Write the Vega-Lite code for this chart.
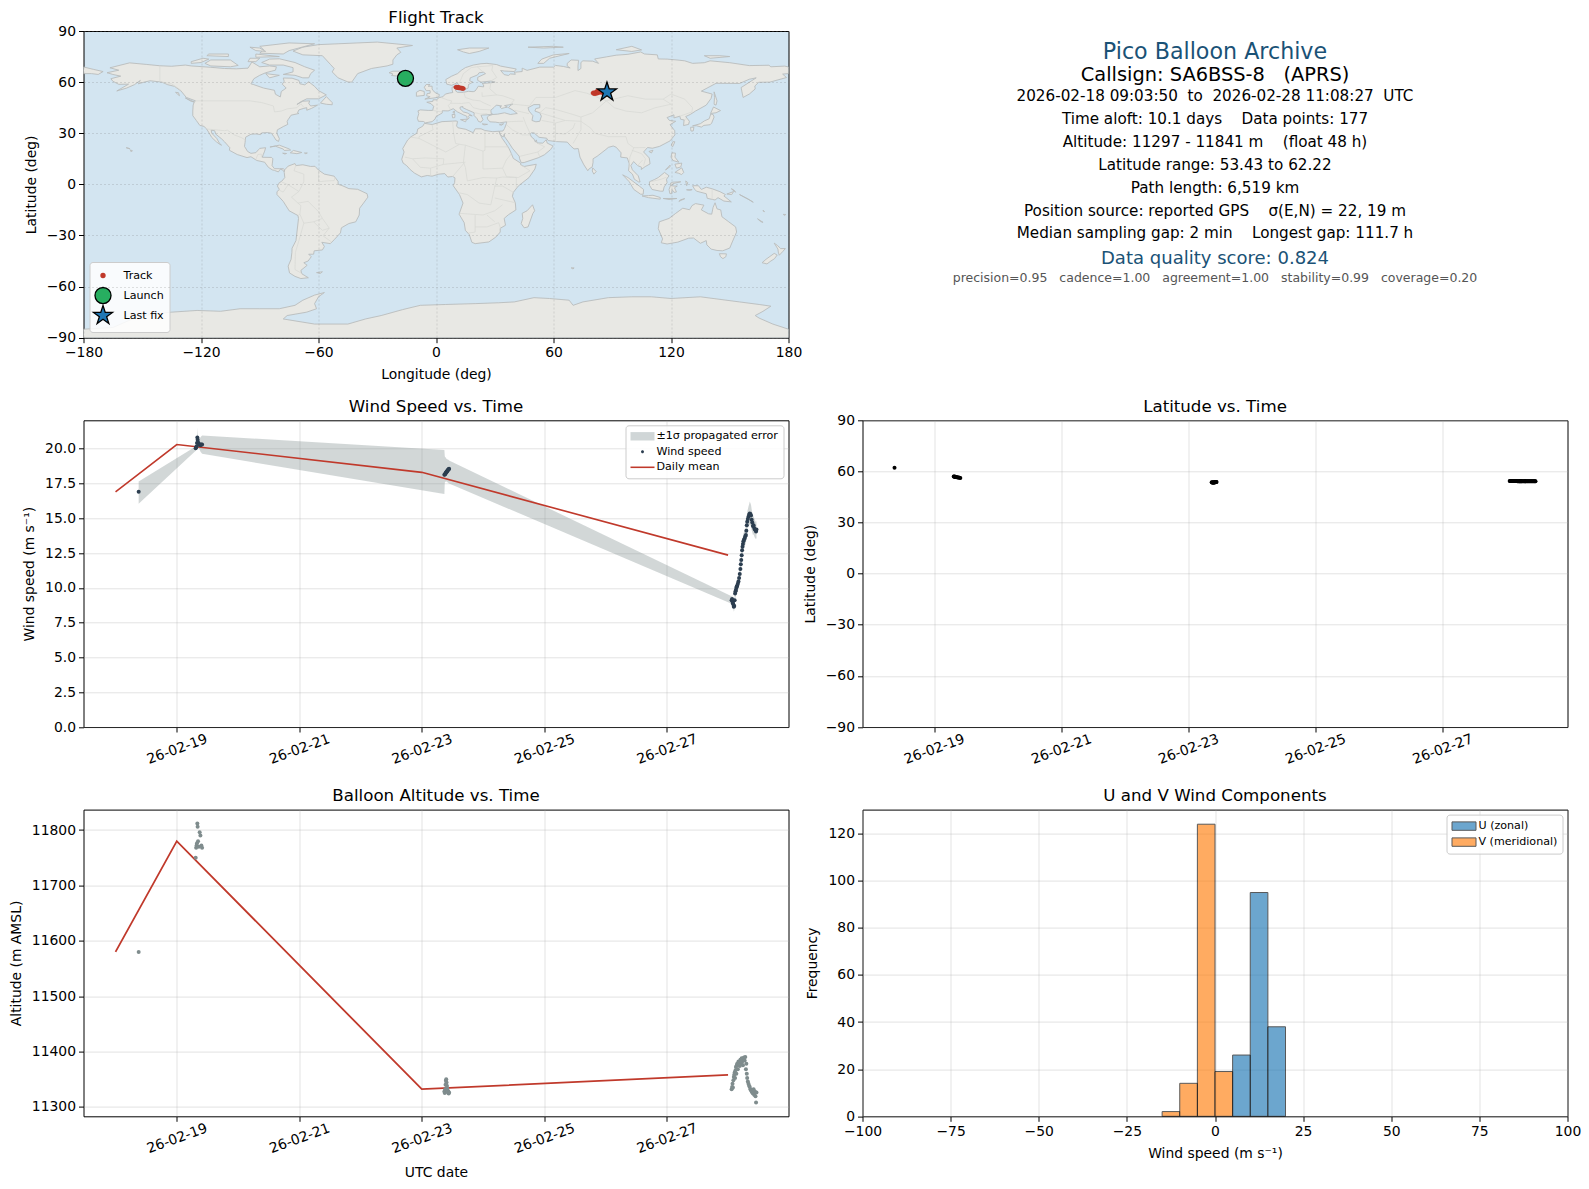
{
  "$schema": "https://vega.github.io/schema/vega-lite/v6.json",
  "background": "white",
  "padding": {"left": 8.5, "top": 9, "right": 4, "bottom": 4},
  "columns": 2,
  "bounds": "flush",
  "spacing": {"row": 82.3, "column": 74},
  "resolve": {
    "scale": {"shape": "independent", "fill": "independent", "stroke": "independent", "color": "independent", "size": "independent"},
    "legend": {"shape": "independent", "fill": "independent", "stroke": "independent"}
  },
  "config": {
    "font": "DejaVu Sans",
    "view": {"stroke": "black", "strokeWidth": 1},
    "title": {"fontSize": 16.67, "fontWeight": "normal", "color": "black", "offset": 4.5},
    "axis": {"domain": false, "tickColor": "black", "tickSize": 5, "tickWidth": 1, "labelColor": "black", "labelFontSize": 13.9, "titleFontSize": 13.9, "titleFontWeight": "normal", "titleColor": "black", "titlePadding": 8, "gridColor": "#b0b0b0", "gridOpacity": 0.35, "gridWidth": 1, "labelPadding": 3, "labelFlush": false, "labelOverlap": false},
    "legend": {"labelFontSize": 11.1, "labelColor": "black", "fillColor": "rgba(255,255,255,0.85)", "strokeColor": "#cccccc", "cornerRadius": 3, "padding": 5, "offset": 5, "symbolOpacity": 1, "rowPadding": 3.5, "labelOffset": 14}
  },
  "datasets": {
    "land": [
      {"id":"na","lon":-168,"lat":65.5},{"id":"na","lon":-164,"lat":66.5},{"id":"na","lon":-162,"lat":67},{"id":"na","lon":-166.5,"lat":68.4},{"id":"na","lon":-156.5,"lat":71.3},{"id":"na","lon":-148,"lat":70.4},{"id":"na","lon":-141,"lat":69.6},{"id":"na","lon":-135,"lat":69.3},{"id":"na","lon":-128,"lat":70},{"id":"na","lon":-125,"lat":69.5},{"id":"na","lon":-115,"lat":68.7},{"id":"na","lon":-108,"lat":68},{"id":"na","lon":-102,"lat":67.8},{"id":"na","lon":-96,"lat":68.2},{"id":"na","lon":-94,"lat":71.8},{"id":"na","lon":-90,"lat":69},{"id":"na","lon":-85,"lat":69.5},{"id":"na","lon":-81.5,"lat":69},{"id":"na","lon":-82,"lat":67},{"id":"na","lon":-87,"lat":65.5},{"id":"na","lon":-90,"lat":64},{"id":"na","lon":-93,"lat":62},{"id":"na","lon":-94.5,"lat":59},{"id":"na","lon":-93,"lat":58.5},{"id":"na","lon":-88,"lat":56.5},{"id":"na","lon":-82.5,"lat":55.2},{"id":"na","lon":-82,"lat":52.9},{"id":"na","lon":-79.5,"lat":51.3},{"id":"na","lon":-79,"lat":54.5},{"id":"na","lon":-76.5,"lat":56.5},{"id":"na","lon":-78.5,"lat":58.8},{"id":"na","lon":-77.5,"lat":60.5},{"id":"na","lon":-78,"lat":62.4},{"id":"na","lon":-73.5,"lat":62.3},{"id":"na","lon":-70,"lat":61},{"id":"na","lon":-69.5,"lat":59},{"id":"na","lon":-67,"lat":58.4},{"id":"na","lon":-65,"lat":60.2},{"id":"na","lon":-62,"lat":57.5},{"id":"na","lon":-60,"lat":55},{"id":"na","lon":-56,"lat":52.5},{"id":"na","lon":-60,"lat":50.2},{"id":"na","lon":-66,"lat":50.2},{"id":"na","lon":-69,"lat":48.5},{"id":"na","lon":-71,"lat":46.9},{"id":"na","lon":-68,"lat":48.8},{"id":"na","lon":-64.5,"lat":49},{"id":"na","lon":-65,"lat":47.5},{"id":"na","lon":-64,"lat":46},{"id":"na","lon":-60.5,"lat":46.5},{"id":"na","lon":-63.5,"lat":44.6},{"id":"na","lon":-66,"lat":43.5},{"id":"na","lon":-66,"lat":45},{"id":"na","lon":-67.5,"lat":44.6},{"id":"na","lon":-70,"lat":43.7},{"id":"na","lon":-70.7,"lat":42},{"id":"na","lon":-70,"lat":41.6},{"id":"na","lon":-74,"lat":40.6},{"id":"na","lon":-75.5,"lat":38},{"id":"na","lon":-76,"lat":36.9},{"id":"na","lon":-75.7,"lat":35.2},{"id":"na","lon":-78,"lat":33.9},{"id":"na","lon":-81,"lat":32},{"id":"na","lon":-81.3,"lat":30},{"id":"na","lon":-80,"lat":26.8},{"id":"na","lon":-80.4,"lat":25.2},{"id":"na","lon":-81.7,"lat":26},{"id":"na","lon":-82.8,"lat":28},{"id":"na","lon":-84,"lat":30},{"id":"na","lon":-86,"lat":30.4},{"id":"na","lon":-89,"lat":30.2},{"id":"na","lon":-89.5,"lat":29.2},{"id":"na","lon":-92,"lat":29.6},{"id":"na","lon":-94.5,"lat":29.4},{"id":"na","lon":-97.2,"lat":27.7},{"id":"na","lon":-97.5,"lat":24.5},{"id":"na","lon":-97.8,"lat":22.3},{"id":"na","lon":-96.2,"lat":19.3},{"id":"na","lon":-94.5,"lat":18.2},{"id":"na","lon":-92,"lat":18.6},{"id":"na","lon":-90.5,"lat":20.5},{"id":"na","lon":-90,"lat":21.1},{"id":"na","lon":-87,"lat":21.5},{"id":"na","lon":-87.5,"lat":19.5},{"id":"na","lon":-88.2,"lat":17.5},{"id":"na","lon":-88.7,"lat":15.9},{"id":"na","lon":-84,"lat":15.8},{"id":"na","lon":-83.3,"lat":15},{"id":"na","lon":-83.6,"lat":12},{"id":"na","lon":-83.7,"lat":11},{"id":"na","lon":-82.5,"lat":9.2},{"id":"na","lon":-80,"lat":9.2},{"id":"na","lon":-78,"lat":9.2},{"id":"na","lon":-77.3,"lat":8.5},{"id":"na","lon":-77.5,"lat":7.5},{"id":"na","lon":-78.5,"lat":8.5},{"id":"na","lon":-79.5,"lat":8.9},{"id":"na","lon":-80.5,"lat":7.3},{"id":"na","lon":-82.5,"lat":8.2},{"id":"na","lon":-83.6,"lat":8.5},{"id":"na","lon":-85.6,"lat":10},{"id":"na","lon":-87.5,"lat":13},{"id":"na","lon":-91.5,"lat":14},{"id":"na","lon":-94.5,"lat":16.2},{"id":"na","lon":-96.5,"lat":15.7},{"id":"na","lon":-101.5,"lat":17.5},{"id":"na","lon":-105.5,"lat":20},{"id":"na","lon":-105.3,"lat":21.5},{"id":"na","lon":-108,"lat":25},{"id":"na","lon":-109.5,"lat":26.7},{"id":"na","lon":-112.5,"lat":29.5},{"id":"na","lon":-113,"lat":31.5},{"id":"na","lon":-114.8,"lat":31.8},{"id":"na","lon":-114.5,"lat":30},{"id":"na","lon":-112,"lat":27},{"id":"na","lon":-110.5,"lat":24},{"id":"na","lon":-109.5,"lat":23},{"id":"na","lon":-110.3,"lat":23.4},{"id":"na","lon":-112.2,"lat":25},{"id":"na","lon":-114.5,"lat":27.5},{"id":"na","lon":-115.8,"lat":30},{"id":"na","lon":-117.1,"lat":32.5},{"id":"na","lon":-118.5,"lat":34},{"id":"na","lon":-120.6,"lat":34.6},{"id":"na","lon":-122.4,"lat":37.5},{"id":"na","lon":-124.2,"lat":40.3},{"id":"na","lon":-124.2,"lat":43},{"id":"na","lon":-124,"lat":46.5},{"id":"na","lon":-123.5,"lat":48.3},{"id":"na","lon":-122.8,"lat":49},{"id":"na","lon":-127.5,"lat":51},{"id":"na","lon":-130.2,"lat":54.8},{"id":"na","lon":-133.5,"lat":57.5},{"id":"na","lon":-137,"lat":58.5},{"id":"na","lon":-140,"lat":60},{"id":"na","lon":-146,"lat":60.8},{"id":"na","lon":-149,"lat":60},{"id":"na","lon":-152,"lat":59},{"id":"na","lon":-151,"lat":61},{"id":"na","lon":-154,"lat":58.5},{"id":"na","lon":-158,"lat":56.5},{"id":"na","lon":-163,"lat":54.8},{"id":"na","lon":-157,"lat":58.8},{"id":"na","lon":-162,"lat":58.7},{"id":"na","lon":-165,"lat":60.5},{"id":"na","lon":-166,"lat":62},{"id":"na","lon":-161,"lat":63.5},{"id":"na","lon":-165,"lat":64.5},
      {"id":"sa","lon":-77.3,"lat":8.5},{"id":"sa","lon":-75.5,"lat":10.7},{"id":"sa","lon":-72,"lat":12.2},{"id":"sa","lon":-71.5,"lat":11},{"id":"sa","lon":-68,"lat":11.5},{"id":"sa","lon":-64,"lat":10.5},{"id":"sa","lon":-61.8,"lat":10.6},{"id":"sa","lon":-60,"lat":8.4},{"id":"sa","lon":-57,"lat":6},{"id":"sa","lon":-52,"lat":4.8},{"id":"sa","lon":-50,"lat":1.7},{"id":"sa","lon":-50,"lat":0},{"id":"sa","lon":-48,"lat":-0.7},{"id":"sa","lon":-44.5,"lat":-2.5},{"id":"sa","lon":-40,"lat":-2.9},{"id":"sa","lon":-35.2,"lat":-5.5},{"id":"sa","lon":-34.8,"lat":-7.5},{"id":"sa","lon":-37,"lat":-11},{"id":"sa","lon":-39,"lat":-14},{"id":"sa","lon":-39.2,"lat":-18},{"id":"sa","lon":-41,"lat":-22},{"id":"sa","lon":-44.5,"lat":-23},{"id":"sa","lon":-48.3,"lat":-25.5},{"id":"sa","lon":-48.8,"lat":-28.5},{"id":"sa","lon":-52,"lat":-32.5},{"id":"sa","lon":-54,"lat":-34.8},{"id":"sa","lon":-58.3,"lat":-34},{"id":"sa","lon":-57,"lat":-36.5},{"id":"sa","lon":-58,"lat":-38.5},{"id":"sa","lon":-62.2,"lat":-39},{"id":"sa","lon":-62.5,"lat":-41},{"id":"sa","lon":-65,"lat":-41},{"id":"sa","lon":-63.7,"lat":-42.5},{"id":"sa","lon":-65.3,"lat":-45},{"id":"sa","lon":-67.5,"lat":-46},{"id":"sa","lon":-65.8,"lat":-47.5},{"id":"sa","lon":-69,"lat":-50.5},{"id":"sa","lon":-68.5,"lat":-52.5},{"id":"sa","lon":-65.2,"lat":-54.8},{"id":"sa","lon":-69,"lat":-55.3},{"id":"sa","lon":-72,"lat":-54},{"id":"sa","lon":-74.8,"lat":-52},{"id":"sa","lon":-75.5,"lat":-48},{"id":"sa","lon":-74,"lat":-44},{"id":"sa","lon":-73.6,"lat":-40},{"id":"sa","lon":-73.5,"lat":-37.5},{"id":"sa","lon":-71.5,"lat":-33},{"id":"sa","lon":-71,"lat":-28},{"id":"sa","lon":-70.2,"lat":-20},{"id":"sa","lon":-70.5,"lat":-18.3},{"id":"sa","lon":-75,"lat":-15.5},{"id":"sa","lon":-78,"lat":-10},{"id":"sa","lon":-81.2,"lat":-6},{"id":"sa","lon":-81.2,"lat":-4.3},{"id":"sa","lon":-80,"lat":-3},{"id":"sa","lon":-81,"lat":-1},{"id":"sa","lon":-80,"lat":1},{"id":"sa","lon":-78.8,"lat":1.8},{"id":"sa","lon":-77.2,"lat":4},{"id":"sa","lon":-77.5,"lat":7},
      {"id":"af","lon":-5.9,"lat":35.8},{"id":"af","lon":-2,"lat":35.1},{"id":"af","lon":3,"lat":36.8},{"id":"af","lon":10.2,"lat":37.2},{"id":"af","lon":11,"lat":36.9},{"id":"af","lon":10.5,"lat":34.3},{"id":"af","lon":11.2,"lat":33.2},{"id":"af","lon":15.2,"lat":32.3},{"id":"af","lon":19,"lat":30.3},{"id":"af","lon":20,"lat":32.6},{"id":"af","lon":23,"lat":32.6},{"id":"af","lon":25,"lat":31.6},{"id":"af","lon":29,"lat":30.9},{"id":"af","lon":32.2,"lat":31.2},{"id":"af","lon":32.5,"lat":29.9},{"id":"af","lon":33.8,"lat":27},{"id":"af","lon":35.7,"lat":23.9},{"id":"af","lon":37.3,"lat":21},{"id":"af","lon":38.5,"lat":18},{"id":"af","lon":39.5,"lat":15.2},{"id":"af","lon":43.2,"lat":12.5},{"id":"af","lon":43.3,"lat":11.4},{"id":"af","lon":45,"lat":10.5},{"id":"af","lon":51.2,"lat":11.8},{"id":"af","lon":50.5,"lat":9},{"id":"af","lon":47.5,"lat":4},{"id":"af","lon":42,"lat":-1},{"id":"af","lon":39.5,"lat":-4.7},{"id":"af","lon":39,"lat":-7},{"id":"af","lon":40.5,"lat":-10.8},{"id":"af","lon":40.8,"lat":-15},{"id":"af","lon":37,"lat":-17.8},{"id":"af","lon":34.8,"lat":-20},{"id":"af","lon":35.5,"lat":-24},{"id":"af","lon":32.8,"lat":-25.8},{"id":"af","lon":32.8,"lat":-28},{"id":"af","lon":30.5,"lat":-31},{"id":"af","lon":27,"lat":-33.8},{"id":"af","lon":20,"lat":-34.8},{"id":"af","lon":18.3,"lat":-34},{"id":"af","lon":17,"lat":-29.5},{"id":"af","lon":15,"lat":-27},{"id":"af","lon":14.4,"lat":-22.5},{"id":"af","lon":11.8,"lat":-17.5},{"id":"af","lon":13.8,"lat":-11},{"id":"af","lon":12,"lat":-6},{"id":"af","lon":8.8,"lat":-0.8},{"id":"af","lon":9.5,"lat":1},{"id":"af","lon":9.7,"lat":3.8},{"id":"af","lon":8.5,"lat":4.6},{"id":"af","lon":6,"lat":4.3},{"id":"af","lon":4.5,"lat":6.3},{"id":"af","lon":1.5,"lat":6},{"id":"af","lon":-2,"lat":4.8},{"id":"af","lon":-4.5,"lat":5.2},{"id":"af","lon":-7.5,"lat":4.4},{"id":"af","lon":-11,"lat":6.6},{"id":"af","lon":-13.2,"lat":8.7},{"id":"af","lon":-15,"lat":11},{"id":"af","lon":-16.8,"lat":12.5},{"id":"af","lon":-17.5,"lat":14.7},{"id":"af","lon":-16.3,"lat":19},{"id":"af","lon":-17,"lat":21},{"id":"af","lon":-14.5,"lat":26},{"id":"af","lon":-12.8,"lat":27.9},{"id":"af","lon":-9.8,"lat":30},{"id":"af","lon":-9.3,"lat":32.5},{"id":"af","lon":-6.8,"lat":34.1},
      {"id":"ea","lon":-9,"lat":37},{"id":"ea","lon":-9.5,"lat":38.8},{"id":"ea","lon":-8.8,"lat":41.5},{"id":"ea","lon":-9.2,"lat":43.1},{"id":"ea","lon":-8,"lat":43.7},{"id":"ea","lon":-4,"lat":43.4},{"id":"ea","lon":-1.7,"lat":43.4},{"id":"ea","lon":-1.2,"lat":45.8},{"id":"ea","lon":-2.5,"lat":47.3},{"id":"ea","lon":-4.7,"lat":48.2},{"id":"ea","lon":-1.6,"lat":48.7},{"id":"ea","lon":-1.5,"lat":49.6},{"id":"ea","lon":0.2,"lat":49.6},{"id":"ea","lon":1.6,"lat":50.9},{"id":"ea","lon":3.5,"lat":51.4},{"id":"ea","lon":4.8,"lat":53},{"id":"ea","lon":7,"lat":53.6},{"id":"ea","lon":8.6,"lat":53.9},{"id":"ea","lon":8.2,"lat":55.5},{"id":"ea","lon":8.2,"lat":57},{"id":"ea","lon":10.6,"lat":57.7},{"id":"ea","lon":10.3,"lat":56},{"id":"ea","lon":10,"lat":54.8},{"id":"ea","lon":11,"lat":54},{"id":"ea","lon":14,"lat":54},{"id":"ea","lon":16.5,"lat":54.6},{"id":"ea","lon":19,"lat":54.4},{"id":"ea","lon":20,"lat":54.8},{"id":"ea","lon":21,"lat":56.5},{"id":"ea","lon":21.6,"lat":57.6},{"id":"ea","lon":24.3,"lat":57.2},{"id":"ea","lon":24.3,"lat":58.4},{"id":"ea","lon":23.5,"lat":59.2},{"id":"ea","lon":28,"lat":59.6},{"id":"ea","lon":30.2,"lat":60},{"id":"ea","lon":28,"lat":60.6},{"id":"ea","lon":23,"lat":60},{"id":"ea","lon":21.3,"lat":61},{"id":"ea","lon":21.3,"lat":62.8},{"id":"ea","lon":25.3,"lat":65},{"id":"ea","lon":24.2,"lat":65.8},{"id":"ea","lon":22,"lat":65.5},{"id":"ea","lon":21.2,"lat":64.2},{"id":"ea","lon":17.5,"lat":62.5},{"id":"ea","lon":17.2,"lat":60.8},{"id":"ea","lon":18.8,"lat":60},{"id":"ea","lon":16.6,"lat":58.6},{"id":"ea","lon":16.4,"lat":56.5},{"id":"ea","lon":14.3,"lat":55.5},{"id":"ea","lon":12.9,"lat":55.4},{"id":"ea","lon":11.4,"lat":58.8},{"id":"ea","lon":10.6,"lat":59.5},{"id":"ea","lon":8,"lat":58.1},{"id":"ea","lon":5.5,"lat":58.8},{"id":"ea","lon":5,"lat":61.5},{"id":"ea","lon":8,"lat":63.5},{"id":"ea","lon":11,"lat":65},{"id":"ea","lon":13,"lat":67},{"id":"ea","lon":15,"lat":68.5},{"id":"ea","lon":19,"lat":70},{"id":"ea","lon":23,"lat":70.8},{"id":"ea","lon":26,"lat":71},{"id":"ea","lon":31,"lat":70.3},{"id":"ea","lon":33,"lat":69.4},{"id":"ea","lon":41,"lat":67.7},{"id":"ea","lon":40,"lat":66.2},{"id":"ea","lon":35,"lat":66.5},{"id":"ea","lon":33,"lat":66.8},{"id":"ea","lon":34.8,"lat":64.4},{"id":"ea","lon":37,"lat":63.9},{"id":"ea","lon":38,"lat":64.8},{"id":"ea","lon":40.5,"lat":64.6},{"id":"ea","lon":40,"lat":65.8},{"id":"ea","lon":44,"lat":66.2},{"id":"ea","lon":44,"lat":68.2},{"id":"ea","lon":46.5,"lat":66.9},{"id":"ea","lon":53,"lat":68.8},{"id":"ea","lon":60,"lat":68.8},{"id":"ea","lon":61,"lat":69.8},{"id":"ea","lon":65,"lat":69.2},{"id":"ea","lon":68.5,"lat":68.3},{"id":"ea","lon":67,"lat":69.5},{"id":"ea","lon":67,"lat":71},{"id":"ea","lon":69,"lat":73},{"id":"ea","lon":72.8,"lat":72.8},{"id":"ea","lon":72.5,"lat":69.5},{"id":"ea","lon":72.5,"lat":66.8},{"id":"ea","lon":74,"lat":68},{"id":"ea","lon":74,"lat":71.5},{"id":"ea","lon":75,"lat":72.5},{"id":"ea","lon":80,"lat":72.3},{"id":"ea","lon":83,"lat":71},{"id":"ea","lon":81,"lat":73.6},{"id":"ea","lon":87,"lat":74.8},{"id":"ea","lon":92,"lat":75.8},{"id":"ea","lon":98,"lat":76.3},{"id":"ea","lon":104.5,"lat":77.7},{"id":"ea","lon":106.5,"lat":76.5},{"id":"ea","lon":113,"lat":76},{"id":"ea","lon":113.5,"lat":73.6},{"id":"ea","lon":118,"lat":73.5},{"id":"ea","lon":123,"lat":73},{"id":"ea","lon":127,"lat":72.5},{"id":"ea","lon":131,"lat":71},{"id":"ea","lon":137,"lat":71.4},{"id":"ea","lon":140,"lat":72.5},{"id":"ea","lon":150,"lat":71.4},{"id":"ea","lon":160,"lat":69.7},{"id":"ea","lon":170,"lat":69.9},{"id":"ea","lon":171,"lat":69},{"id":"ea","lon":178,"lat":69.4},{"id":"ea","lon":180,"lat":68.9},{"id":"ea","lon":180,"lat":65},{"id":"ea","lon":177,"lat":64.7},{"id":"ea","lon":179,"lat":62.7},{"id":"ea","lon":170.5,"lat":60},{"id":"ea","lon":164.8,"lat":59.9},{"id":"ea","lon":162.8,"lat":57.7},{"id":"ea","lon":163,"lat":56},{"id":"ea","lon":160,"lat":53},{"id":"ea","lon":156.8,"lat":51},{"id":"ea","lon":155.8,"lat":56.8},{"id":"ea","lon":163.5,"lat":62.5},{"id":"ea","lon":160,"lat":61.7},{"id":"ea","lon":155,"lat":59.2},{"id":"ea","lon":143,"lat":59.3},{"id":"ea","lon":135.5,"lat":54.7},{"id":"ea","lon":141,"lat":53},{"id":"ea","lon":140.5,"lat":50.5},{"id":"ea","lon":138,"lat":46.5},{"id":"ea","lon":132.5,"lat":43},{"id":"ea","lon":129.8,"lat":41},{"id":"ea","lon":127.5,"lat":39.8},{"id":"ea","lon":129.4,"lat":37},{"id":"ea","lon":129,"lat":35.2},{"id":"ea","lon":126.4,"lat":34.5},{"id":"ea","lon":126.7,"lat":37.8},{"id":"ea","lon":124.9,"lat":38.2},{"id":"ea","lon":124.5,"lat":40},{"id":"ea","lon":121.5,"lat":39},{"id":"ea","lon":121.5,"lat":40.8},{"id":"ea","lon":118,"lat":39.2},{"id":"ea","lon":119.2,"lat":37.5},{"id":"ea","lon":122.4,"lat":37},{"id":"ea","lon":119.5,"lat":35},{"id":"ea","lon":121.9,"lat":31.5},{"id":"ea","lon":122,"lat":29},{"id":"ea","lon":119.5,"lat":25.5},{"id":"ea","lon":114.2,"lat":22.3},{"id":"ea","lon":110.5,"lat":21.2},{"id":"ea","lon":108,"lat":21.6},{"id":"ea","lon":106,"lat":19},{"id":"ea","lon":108.9,"lat":15.5},{"id":"ea","lon":109.3,"lat":12},{"id":"ea","lon":106.8,"lat":10.4},{"id":"ea","lon":104.8,"lat":8.7},{"id":"ea","lon":105,"lat":10},{"id":"ea","lon":103,"lat":11},{"id":"ea","lon":100.9,"lat":13.4},{"id":"ea","lon":99.5,"lat":11},{"id":"ea","lon":100.3,"lat":8.5},{"id":"ea","lon":103.3,"lat":5},{"id":"ea","lon":104.2,"lat":1.4},{"id":"ea","lon":103.5,"lat":1.4},{"id":"ea","lon":101.3,"lat":3},{"id":"ea","lon":100.3,"lat":6},{"id":"ea","lon":98.3,"lat":8},{"id":"ea","lon":98.7,"lat":12},{"id":"ea","lon":97.7,"lat":15.5},{"id":"ea","lon":95.5,"lat":15.8},{"id":"ea","lon":94.3,"lat":16},{"id":"ea","lon":94.5,"lat":18.5},{"id":"ea","lon":92,"lat":21.8},{"id":"ea","lon":90.5,"lat":22.5},{"id":"ea","lon":88,"lat":21.7},{"id":"ea","lon":86.8,"lat":20.5},{"id":"ea","lon":82.3,"lat":16.5},{"id":"ea","lon":80.2,"lat":15},{"id":"ea","lon":80.2,"lat":13},{"id":"ea","lon":79.8,"lat":10.3},{"id":"ea","lon":78,"lat":8.9},{"id":"ea","lon":77.5,"lat":8},{"id":"ea","lon":75.5,"lat":11.5},{"id":"ea","lon":73.5,"lat":16},{"id":"ea","lon":72.8,"lat":20},{"id":"ea","lon":72.6,"lat":21},{"id":"ea","lon":70.5,"lat":20.8},{"id":"ea","lon":69,"lat":22.3},{"id":"ea","lon":67,"lat":24.8},{"id":"ea","lon":61.5,"lat":25.1},{"id":"ea","lon":57.3,"lat":25.7},{"id":"ea","lon":56.5,"lat":27.1},{"id":"ea","lon":52.6,"lat":27.6},{"id":"ea","lon":50.1,"lat":30.2},{"id":"ea","lon":48.8,"lat":30.3},{"id":"ea","lon":48,"lat":29.5},{"id":"ea","lon":48.8,"lat":27.7},{"id":"ea","lon":50,"lat":26.7},{"id":"ea","lon":50.8,"lat":24.8},{"id":"ea","lon":51.2,"lat":26.1},{"id":"ea","lon":51.6,"lat":24.3},{"id":"ea","lon":54.5,"lat":24.2},{"id":"ea","lon":56.3,"lat":26.2},{"id":"ea","lon":56.8,"lat":24.2},{"id":"ea","lon":59.8,"lat":22.5},{"id":"ea","lon":58.5,"lat":20.4},{"id":"ea","lon":55.3,"lat":17.3},{"id":"ea","lon":52.2,"lat":15.6},{"id":"ea","lon":45,"lat":12.8},{"id":"ea","lon":43.5,"lat":12.7},{"id":"ea","lon":42.7,"lat":15},{"id":"ea","lon":42.5,"lat":16.5},{"id":"ea","lon":39,"lat":21.2},{"id":"ea","lon":37,"lat":24.8},{"id":"ea","lon":35,"lat":28},{"id":"ea","lon":34.9,"lat":29.5},{"id":"ea","lon":34.3,"lat":27.8},{"id":"ea","lon":33,"lat":29},{"id":"ea","lon":32.6,"lat":29.9},{"id":"ea","lon":32.4,"lat":31.2},{"id":"ea","lon":34.2,"lat":31.3},{"id":"ea","lon":35,"lat":32.8},{"id":"ea","lon":36,"lat":35.8},{"id":"ea","lon":36.1,"lat":36.7},{"id":"ea","lon":32.5,"lat":36.1},{"id":"ea","lon":30.5,"lat":36.5},{"id":"ea","lon":27.5,"lat":36.7},{"id":"ea","lon":26.3,"lat":38.3},{"id":"ea","lon":26.2,"lat":39.5},{"id":"ea","lon":27,"lat":40.3},{"id":"ea","lon":29,"lat":41},{"id":"ea","lon":31.5,"lat":41.2},{"id":"ea","lon":35,"lat":42},{"id":"ea","lon":38,"lat":41},{"id":"ea","lon":41.5,"lat":41.6},{"id":"ea","lon":39,"lat":43.8},{"id":"ea","lon":37,"lat":45},{"id":"ea","lon":38.2,"lat":46.5},{"id":"ea","lon":39.3,"lat":47.1},{"id":"ea","lon":35,"lat":46.2},{"id":"ea","lon":36.5,"lat":45.3},{"id":"ea","lon":35,"lat":45},{"id":"ea","lon":33.5,"lat":44.5},{"id":"ea","lon":32.6,"lat":45.5},{"id":"ea","lon":33.5,"lat":46},{"id":"ea","lon":30.8,"lat":46.5},{"id":"ea","lon":29.7,"lat":45.2},{"id":"ea","lon":28,"lat":43.5},{"id":"ea","lon":28.2,"lat":41.6},{"id":"ea","lon":28.9,"lat":41.2},{"id":"ea","lon":27.5,"lat":41},{"id":"ea","lon":26,"lat":40.8},{"id":"ea","lon":23.8,"lat":40.7},{"id":"ea","lon":23,"lat":40.4},{"id":"ea","lon":24,"lat":38},{"id":"ea","lon":23,"lat":36.5},{"id":"ea","lon":21.7,"lat":36.9},{"id":"ea","lon":21,"lat":38.5},{"id":"ea","lon":19.4,"lat":40.5},{"id":"ea","lon":19.5,"lat":42},{"id":"ea","lon":15.5,"lat":44},{"id":"ea","lon":13.6,"lat":45.1},{"id":"ea","lon":13.7,"lat":45.7},{"id":"ea","lon":12.3,"lat":45.3},{"id":"ea","lon":12.3,"lat":44.3},{"id":"ea","lon":14,"lat":42.5},{"id":"ea","lon":16,"lat":41.9},{"id":"ea","lon":18.5,"lat":40.2},{"id":"ea","lon":17,"lat":40.5},{"id":"ea","lon":16.5,"lat":39.8},{"id":"ea","lon":17,"lat":39},{"id":"ea","lon":16,"lat":38},{"id":"ea","lon":15.7,"lat":40},{"id":"ea","lon":14,"lat":40.8},{"id":"ea","lon":11,"lat":42.5},{"id":"ea","lon":8.8,"lat":44.4},{"id":"ea","lon":6.2,"lat":43.1},{"id":"ea","lon":3.2,"lat":43.2},{"id":"ea","lon":3.2,"lat":41.9},{"id":"ea","lon":0,"lat":39.8},{"id":"ea","lon":-0.5,"lat":38.3},{"id":"ea","lon":-2,"lat":36.8},{"id":"ea","lon":-5.4,"lat":36.1},{"id":"ea","lon":-6.4,"lat":36.9},
      {"id":"chukotka","lon":-180,"lat":68.9},{"id":"chukotka","lon":-175,"lat":67.5},{"id":"chukotka","lon":-170,"lat":66.2},{"id":"chukotka","lon":-172.5,"lat":64.5},{"id":"chukotka","lon":-176,"lat":65},{"id":"chukotka","lon":-180,"lat":65},
      {"id":"greenland","lon":-73,"lat":78.2},{"id":"greenland","lon":-68,"lat":76},{"id":"greenland","lon":-58,"lat":75.5},{"id":"greenland","lon":-54,"lat":70.5},{"id":"greenland","lon":-52,"lat":68},{"id":"greenland","lon":-53,"lat":66},{"id":"greenland","lon":-50,"lat":62.5},{"id":"greenland","lon":-45,"lat":60.1},{"id":"greenland","lon":-43,"lat":60},{"id":"greenland","lon":-40,"lat":65},{"id":"greenland","lon":-33,"lat":68},{"id":"greenland","lon":-25,"lat":69.5},{"id":"greenland","lon":-22,"lat":70.5},{"id":"greenland","lon":-22,"lat":73},{"id":"greenland","lon":-20,"lat":76},{"id":"greenland","lon":-18,"lat":77.5},{"id":"greenland","lon":-20,"lat":80},{"id":"greenland","lon":-12,"lat":81.5},{"id":"greenland","lon":-30,"lat":83.5},{"id":"greenland","lon":-50,"lat":82.5},{"id":"greenland","lon":-60,"lat":82},{"id":"greenland","lon":-68,"lat":80.5},
      {"id":"baffin","lon":-80,"lat":73.7},{"id":"baffin","lon":-72,"lat":71.5},{"id":"baffin","lon":-67,"lat":69},{"id":"baffin","lon":-62,"lat":67},{"id":"baffin","lon":-64,"lat":65},{"id":"baffin","lon":-65,"lat":62.5},{"id":"baffin","lon":-68,"lat":62.5},{"id":"baffin","lon":-72,"lat":64},{"id":"baffin","lon":-78,"lat":64.5},{"id":"baffin","lon":-73,"lat":66},{"id":"baffin","lon":-73,"lat":68.5},{"id":"baffin","lon":-78,"lat":70},{"id":"baffin","lon":-85,"lat":70},{"id":"baffin","lon":-89,"lat":71.5},{"id":"baffin","lon":-85,"lat":73.5},
      {"id":"victoria","lon":-105,"lat":73},{"id":"victoria","lon":-115,"lat":73},{"id":"victoria","lon":-118,"lat":71},{"id":"victoria","lon":-115,"lat":69.5},{"id":"victoria","lon":-105,"lat":69},{"id":"victoria","lon":-101,"lat":69.8},
      {"id":"banks","lon":-125,"lat":72},{"id":"banks","lon":-119,"lat":74},{"id":"banks","lon":-116,"lat":73.5},{"id":"banks","lon":-120,"lat":71.5},{"id":"banks","lon":-125,"lat":71},
      {"id":"melville","lon":-117,"lat":75.5},{"id":"melville","lon":-106,"lat":75},{"id":"melville","lon":-106,"lat":76.5},{"id":"melville","lon":-116,"lat":76.5},
      {"id":"somerset","lon":-95,"lat":74},{"id":"somerset","lon":-90,"lat":74},{"id":"somerset","lon":-92,"lat":72},{"id":"somerset","lon":-96,"lat":72},
      {"id":"devon","lon":-92,"lat":76.5},{"id":"devon","lon":-80,"lat":75},{"id":"devon","lon":-92,"lat":74.6},
      {"id":"ellesmere","lon":-90,"lat":77},{"id":"ellesmere","lon":-78,"lat":76.5},{"id":"ellesmere","lon":-75,"lat":78.5},{"id":"ellesmere","lon":-62,"lat":82.5},{"id":"ellesmere","lon":-75,"lat":83},{"id":"ellesmere","lon":-90,"lat":81},{"id":"ellesmere","lon":-88,"lat":79},
      {"id":"heiberg","lon":-95,"lat":80.5},{"id":"heiberg","lon":-90,"lat":80},{"id":"heiberg","lon":-87,"lat":78},{"id":"heiberg","lon":-92,"lat":78.5},
      {"id":"southampton","lon":-87,"lat":65},{"id":"southampton","lon":-80,"lat":64},{"id":"southampton","lon":-85,"lat":62.5},
      {"id":"newfoundland","lon":-59,"lat":47.7},{"id":"newfoundland","lon":-56,"lat":51.5},{"id":"newfoundland","lon":-53,"lat":48},{"id":"newfoundland","lon":-53,"lat":46.7},{"id":"newfoundland","lon":-56,"lat":47},
      {"id":"vancouver","lon":-128,"lat":50.7},{"id":"vancouver","lon":-123.5,"lat":48.4},{"id":"vancouver","lon":-125,"lat":48.7},
      {"id":"haida","lon":-133,"lat":54},{"id":"haida","lon":-131.5,"lat":53.8},{"id":"haida","lon":-131,"lat":52},
      {"id":"cuba","lon":-84.8,"lat":21.9},{"id":"cuba","lon":-80,"lat":23},{"id":"cuba","lon":-75,"lat":20.8},{"id":"cuba","lon":-74.2,"lat":20.1},{"id":"cuba","lon":-77.5,"lat":19.9},{"id":"cuba","lon":-78,"lat":20.7},{"id":"cuba","lon":-82,"lat":22.4},
      {"id":"hispaniola","lon":-74.4,"lat":18.5},{"id":"hispaniola","lon":-72.8,"lat":19.9},{"id":"hispaniola","lon":-68.5,"lat":18.7},{"id":"hispaniola","lon":-71,"lat":18},
      {"id":"jamaica","lon":-78.3,"lat":18.3},{"id":"jamaica","lon":-76.3,"lat":18.1},{"id":"jamaica","lon":-77.2,"lat":17.8},
      {"id":"puertorico","lon":-67.2,"lat":18.4},{"id":"puertorico","lon":-65.7,"lat":18.4},{"id":"puertorico","lon":-66.5,"lat":18},
      {"id":"hawaii","lon":-155.8,"lat":19.2},{"id":"hawaii","lon":-155,"lat":19.7},{"id":"hawaii","lon":-156,"lat":20.2},
      {"id":"oahu","lon":-158.2,"lat":21.5},{"id":"oahu","lon":-157,"lat":21.2},{"id":"oahu","lon":-156.2,"lat":20.8},
      {"id":"iceland","lon":-24,"lat":65.5},{"id":"iceland","lon":-22,"lat":66.4},{"id":"iceland","lon":-16,"lat":66.4},{"id":"iceland","lon":-13.7,"lat":65},{"id":"iceland","lon":-18.8,"lat":63.4},{"id":"iceland","lon":-22.7,"lat":63.9},{"id":"iceland","lon":-22,"lat":64.8},
      {"id":"britain","lon":-5.7,"lat":50},{"id":"britain","lon":-1,"lat":50.7},{"id":"britain","lon":1.4,"lat":51.2},{"id":"britain","lon":1.7,"lat":52.7},{"id":"britain","lon":0,"lat":53.5},{"id":"britain","lon":-1.5,"lat":55},{"id":"britain","lon":-2,"lat":56},{"id":"britain","lon":-2,"lat":57.6},{"id":"britain","lon":-4,"lat":57.6},{"id":"britain","lon":-3,"lat":58.6},{"id":"britain","lon":-5,"lat":58.6},{"id":"britain","lon":-6,"lat":57},{"id":"britain","lon":-5,"lat":55},{"id":"britain","lon":-3,"lat":55},{"id":"britain","lon":-3,"lat":53.5},{"id":"britain","lon":-4.5,"lat":53.3},{"id":"britain","lon":-4.8,"lat":52},{"id":"britain","lon":-3,"lat":51.4},
      {"id":"ireland","lon":-10,"lat":54},{"id":"ireland","lon":-8.2,"lat":55.2},{"id":"ireland","lon":-6,"lat":54.5},{"id":"ireland","lon":-6,"lat":52.2},{"id":"ireland","lon":-10,"lat":51.7},
      {"id":"svalbard","lon":11,"lat":79},{"id":"svalbard","lon":17,"lat":80},{"id":"svalbard","lon":27,"lat":80},{"id":"svalbard","lon":22,"lat":78},{"id":"svalbard","lon":17,"lat":76.8},{"id":"svalbard","lon":14,"lat":77.7},
      {"id":"zemlya","lon":52,"lat":71},{"id":"zemlya","lon":55,"lat":71},{"id":"zemlya","lon":58,"lat":74},{"id":"zemlya","lon":68,"lat":76.8},{"id":"zemlya","lon":60,"lat":76},{"id":"zemlya","lon":54,"lat":73.5},
      {"id":"franzjosef","lon":47,"lat":80.5},{"id":"franzjosef","lon":60,"lat":81},{"id":"franzjosef","lon":65,"lat":80.5},{"id":"franzjosef","lon":55,"lat":80},
      {"id":"severnaya","lon":92,"lat":79},{"id":"severnaya","lon":100,"lat":81},{"id":"severnaya","lon":105,"lat":78.9},{"id":"severnaya","lon":100,"lat":78},
      {"id":"siberian","lon":137,"lat":75.5},{"id":"siberian","lon":145,"lat":75.5},{"id":"siberian","lon":150,"lat":75},{"id":"siberian","lon":140,"lat":74},
      {"id":"sakhalin","lon":142,"lat":54.3},{"id":"sakhalin","lon":143.5,"lat":49},{"id":"sakhalin","lon":143,"lat":46.5},{"id":"sakhalin","lon":142,"lat":47},{"id":"sakhalin","lon":142.2,"lat":51},
      {"id":"hokkaido","lon":140.2,"lat":41.6},{"id":"hokkaido","lon":141.7,"lat":45.4},{"id":"hokkaido","lon":145.3,"lat":43.3},{"id":"hokkaido","lon":143,"lat":42},
      {"id":"honshu","lon":131,"lat":34.3},{"id":"honshu","lon":135,"lat":35.6},{"id":"honshu","lon":137,"lat":37.2},{"id":"honshu","lon":139.5,"lat":38.5},{"id":"honshu","lon":140.3,"lat":41.3},{"id":"honshu","lon":141.5,"lat":41},{"id":"honshu","lon":142,"lat":39.5},{"id":"honshu","lon":140.8,"lat":36},{"id":"honshu","lon":140,"lat":35},{"id":"honshu","lon":136.8,"lat":34.6},{"id":"honshu","lon":135.5,"lat":33.6},{"id":"honshu","lon":133,"lat":34.4},
      {"id":"kyushu","lon":130,"lat":33.5},{"id":"kyushu","lon":131.7,"lat":33.5},{"id":"kyushu","lon":131.3,"lat":31.3},{"id":"kyushu","lon":130.2,"lat":31.3},
      {"id":"taiwan","lon":121,"lat":25},{"id":"taiwan","lon":122,"lat":25},{"id":"taiwan","lon":120.8,"lat":22},{"id":"taiwan","lon":120.1,"lat":23},
      {"id":"hainan","lon":108.7,"lat":19.3},{"id":"hainan","lon":110.8,"lat":20},{"id":"hainan","lon":110,"lat":18.4},
      {"id":"luzon","lon":120.5,"lat":18.5},{"id":"luzon","lon":122.3,"lat":18.3},{"id":"luzon","lon":122,"lat":16},{"id":"luzon","lon":124,"lat":13},{"id":"luzon","lon":121,"lat":14},{"id":"luzon","lon":120,"lat":16},
      {"id":"mindanao","lon":122,"lat":7},{"id":"mindanao","lon":125.5,"lat":9.7},{"id":"mindanao","lon":126.5,"lat":7},{"id":"mindanao","lon":125.4,"lat":5.7},{"id":"mindanao","lon":124,"lat":6.5},
      {"id":"visayas","lon":122,"lat":11.8},{"id":"visayas","lon":125.5,"lat":12.5},{"id":"visayas","lon":125,"lat":10.2},{"id":"visayas","lon":122.8,"lat":9.5},
      {"id":"palawan","lon":117.2,"lat":8.4},{"id":"palawan","lon":119.5,"lat":11.3},{"id":"palawan","lon":119.6,"lat":10.5},
      {"id":"borneo","lon":109,"lat":1.5},{"id":"borneo","lon":111.5,"lat":2.8},{"id":"borneo","lon":113.5,"lat":4},{"id":"borneo","lon":116.7,"lat":7},{"id":"borneo","lon":119,"lat":5},{"id":"borneo","lon":117.7,"lat":3},{"id":"borneo","lon":118,"lat":1},{"id":"borneo","lon":116.5,"lat":-1.5},{"id":"borneo","lon":116,"lat":-4},{"id":"borneo","lon":114.5,"lat":-4},{"id":"borneo","lon":110.3,"lat":-3},{"id":"borneo","lon":109,"lat":-0.5},
      {"id":"sumatra","lon":95.3,"lat":5.6},{"id":"sumatra","lon":98,"lat":4},{"id":"sumatra","lon":103.8,"lat":-1},{"id":"sumatra","lon":106,"lat":-3},{"id":"sumatra","lon":105.8,"lat":-5.8},{"id":"sumatra","lon":104.5,"lat":-5.8},{"id":"sumatra","lon":101,"lat":-3},{"id":"sumatra","lon":98.7,"lat":1.5},
      {"id":"java","lon":105.2,"lat":-6.8},{"id":"java","lon":108.5,"lat":-6.6},{"id":"java","lon":110.8,"lat":-6.4},{"id":"java","lon":114.5,"lat":-7.7},{"id":"java","lon":114.5,"lat":-8.7},{"id":"java","lon":108.5,"lat":-7.8},
      {"id":"sulawesi","lon":119.8,"lat":0.8},{"id":"sulawesi","lon":121,"lat":1.3},{"id":"sulawesi","lon":125,"lat":1.5},{"id":"sulawesi","lon":121,"lat":0.4},{"id":"sulawesi","lon":120,"lat":-0.8},{"id":"sulawesi","lon":121.5,"lat":-1},{"id":"sulawesi","lon":123.2,"lat":-1},{"id":"sulawesi","lon":121.8,"lat":-2},{"id":"sulawesi","lon":122.8,"lat":-4.5},{"id":"sulawesi","lon":121.5,"lat":-4.7},{"id":"sulawesi","lon":120.5,"lat":-3},{"id":"sulawesi","lon":120.4,"lat":-5.5},{"id":"sulawesi","lon":119.4,"lat":-5.4},{"id":"sulawesi","lon":119,"lat":-3},{"id":"sulawesi","lon":119.8,"lat":-0.5},
      {"id":"halmahera","lon":127.5,"lat":2},{"id":"halmahera","lon":128.6,"lat":1},{"id":"halmahera","lon":128,"lat":-0.8},
      {"id":"seram","lon":127.9,"lat":-3.2},{"id":"seram","lon":130.8,"lat":-3.1},{"id":"seram","lon":129.5,"lat":-3.5},
      {"id":"flores","lon":116,"lat":-8.3},{"id":"flores","lon":119,"lat":-8.3},{"id":"flores","lon":123,"lat":-8.3},{"id":"flores","lon":119,"lat":-8.9},
      {"id":"timor","lon":124,"lat":-10},{"id":"timor","lon":127,"lat":-8.4},{"id":"timor","lon":125,"lat":-9},
      {"id":"newguinea","lon":131,"lat":-0.8},{"id":"newguinea","lon":134,"lat":-0.8},{"id":"newguinea","lon":135.5,"lat":-3},{"id":"newguinea","lon":138,"lat":-1.7},{"id":"newguinea","lon":141,"lat":-2.6},{"id":"newguinea","lon":145,"lat":-4.3},{"id":"newguinea","lon":147.8,"lat":-6},{"id":"newguinea","lon":147,"lat":-6.8},{"id":"newguinea","lon":150.8,"lat":-10.3},{"id":"newguinea","lon":147,"lat":-9.8},{"id":"newguinea","lon":144,"lat":-7.8},{"id":"newguinea","lon":142.5,"lat":-9.2},{"id":"newguinea","lon":138.5,"lat":-8.2},{"id":"newguinea","lon":138,"lat":-5.5},{"id":"newguinea","lon":133,"lat":-4},{"id":"newguinea","lon":132,"lat":-2.8},
      {"id":"newbritain","lon":148.5,"lat":-5.7},{"id":"newbritain","lon":152,"lat":-4.2},{"id":"newbritain","lon":151,"lat":-6},
      {"id":"newireland","lon":150.8,"lat":-2.6},{"id":"newireland","lon":153,"lat":-4.6},{"id":"newireland","lon":152,"lat":-3.2},
      {"id":"solomons","lon":155,"lat":-6},{"id":"solomons","lon":160,"lat":-9},{"id":"solomons","lon":162,"lat":-10.5},{"id":"solomons","lon":159,"lat":-8.5},
      {"id":"newcaledonia","lon":164.2,"lat":-20.2},{"id":"newcaledonia","lon":167,"lat":-22.3},{"id":"newcaledonia","lon":165.8,"lat":-21.9},
      {"id":"vanuatu","lon":167,"lat":-15.2},{"id":"vanuatu","lon":167.8,"lat":-16},{"id":"vanuatu","lon":167.2,"lat":-15.9},
      {"id":"fiji","lon":177.3,"lat":-17.6},{"id":"fiji","lon":178.6,"lat":-17.7},{"id":"fiji","lon":178,"lat":-18.3},
      {"id":"australia","lon":114,"lat":-22},{"id":"australia","lon":113.5,"lat":-26},{"id":"australia","lon":115.7,"lat":-32},{"id":"australia","lon":115,"lat":-34.3},{"id":"australia","lon":118,"lat":-35},{"id":"australia","lon":123.5,"lat":-33.9},{"id":"australia","lon":129,"lat":-31.6},{"id":"australia","lon":131.5,"lat":-31.5},{"id":"australia","lon":135,"lat":-34.6},{"id":"australia","lon":138,"lat":-33},{"id":"australia","lon":138.3,"lat":-35.5},{"id":"australia","lon":140.5,"lat":-38},{"id":"australia","lon":143.5,"lat":-38.8},{"id":"australia","lon":146.4,"lat":-39},{"id":"australia","lon":150,"lat":-37.4},{"id":"australia","lon":151.3,"lat":-33.8},{"id":"australia","lon":153.5,"lat":-28},{"id":"australia","lon":153,"lat":-25},{"id":"australia","lon":149.5,"lat":-22},{"id":"australia","lon":146,"lat":-19},{"id":"australia","lon":145.4,"lat":-15},{"id":"australia","lon":143.5,"lat":-14.4},{"id":"australia","lon":142.5,"lat":-10.8},{"id":"australia","lon":141.5,"lat":-13.5},{"id":"australia","lon":140.8,"lat":-17.5},{"id":"australia","lon":139.2,"lat":-17.3},{"id":"australia","lon":135.5,"lat":-15},{"id":"australia","lon":136.8,"lat":-12.2},{"id":"australia","lon":132.5,"lat":-11.3},{"id":"australia","lon":130.7,"lat":-12.5},{"id":"australia","lon":129.5,"lat":-14.9},{"id":"australia","lon":126,"lat":-14},{"id":"australia","lon":122.2,"lat":-17.2},{"id":"australia","lon":119,"lat":-20},
      {"id":"tasmania","lon":144.7,"lat":-40.7},{"id":"tasmania","lon":148.3,"lat":-40.8},{"id":"tasmania","lon":148,"lat":-42.5},{"id":"tasmania","lon":146.5,"lat":-43.6},{"id":"tasmania","lon":145.3,"lat":-42.5},
      {"id":"nznorth","lon":172.7,"lat":-34.5},{"id":"nznorth","lon":174.5,"lat":-36},{"id":"nznorth","lon":176,"lat":-37.7},{"id":"nznorth","lon":178.4,"lat":-37.7},{"id":"nznorth","lon":177,"lat":-39.5},{"id":"nznorth","lon":175.3,"lat":-41.6},{"id":"nznorth","lon":174.8,"lat":-39.8},{"id":"nznorth","lon":174.6,"lat":-38},
      {"id":"nzsouth","lon":172.7,"lat":-40.5},{"id":"nzsouth","lon":174.2,"lat":-41.5},{"id":"nzsouth","lon":172.8,"lat":-43.7},{"id":"nzsouth","lon":171,"lat":-45},{"id":"nzsouth","lon":169,"lat":-46.7},{"id":"nzsouth","lon":166.5,"lat":-46},{"id":"nzsouth","lon":168.5,"lat":-44},
      {"id":"madagascar","lon":49.3,"lat":-12},{"id":"madagascar","lon":50.4,"lat":-15.5},{"id":"madagascar","lon":49.5,"lat":-17},{"id":"madagascar","lon":47,"lat":-25},{"id":"madagascar","lon":45,"lat":-25.5},{"id":"madagascar","lon":43.5,"lat":-23},{"id":"madagascar","lon":44.3,"lat":-20},{"id":"madagascar","lon":44,"lat":-17},{"id":"madagascar","lon":46.5,"lat":-15.5},
      {"id":"srilanka","lon":80,"lat":9.7},{"id":"srilanka","lon":81.8,"lat":7.5},{"id":"srilanka","lon":80.6,"lat":6},{"id":"srilanka","lon":79.8,"lat":7.8},
      {"id":"sicily","lon":12.5,"lat":38},{"id":"sicily","lon":15.6,"lat":38.2},{"id":"sicily","lon":15.1,"lat":36.7},
      {"id":"sardinia","lon":8.2,"lat":41},{"id":"sardinia","lon":9.7,"lat":41},{"id":"sardinia","lon":9.6,"lat":39.2},{"id":"sardinia","lon":8.5,"lat":39},
      {"id":"corsica","lon":8.6,"lat":42.5},{"id":"corsica","lon":9.5,"lat":43},{"id":"corsica","lon":9.3,"lat":41.5},
      {"id":"crete","lon":23.6,"lat":35.5},{"id":"crete","lon":26.3,"lat":35.2},{"id":"crete","lon":24.5,"lat":34.9},
      {"id":"cyprus","lon":32.4,"lat":35},{"id":"cyprus","lon":34.5,"lat":35.6},{"id":"cyprus","lon":33.5,"lat":34.7},
      {"id":"falklands","lon":-61,"lat":-51.8},{"id":"falklands","lon":-58,"lat":-51.3},{"id":"falklands","lon":-59,"lat":-52.3},
      {"id":"kerguelen","lon":69,"lat":-49},{"id":"kerguelen","lon":70.5,"lat":-49},{"id":"kerguelen","lon":70,"lat":-49.7},
      {"id":"antarctica","lon":-180,"lat":-90},{"id":"antarctica","lon":-180,"lat":-85},{"id":"antarctica","lon":-165,"lat":-84},{"id":"antarctica","lon":-155,"lat":-79},{"id":"antarctica","lon":-145,"lat":-76},{"id":"antarctica","lon":-135,"lat":-75},{"id":"antarctica","lon":-122,"lat":-74},{"id":"antarctica","lon":-110,"lat":-74.5},{"id":"antarctica","lon":-100,"lat":-73},{"id":"antarctica","lon":-90,"lat":-73},{"id":"antarctica","lon":-80,"lat":-73},{"id":"antarctica","lon":-72,"lat":-71},{"id":"antarctica","lon":-68,"lat":-68},{"id":"antarctica","lon":-62,"lat":-65},{"id":"antarctica","lon":-57,"lat":-63.5},{"id":"antarctica","lon":-60,"lat":-66},{"id":"antarctica","lon":-62,"lat":-70},{"id":"antarctica","lon":-61,"lat":-73},{"id":"antarctica","lon":-66,"lat":-75},{"id":"antarctica","lon":-76,"lat":-77},{"id":"antarctica","lon":-78,"lat":-79},{"id":"antarctica","lon":-62,"lat":-82},{"id":"antarctica","lon":-45,"lat":-82},{"id":"antarctica","lon":-36,"lat":-79},{"id":"antarctica","lon":-28,"lat":-77},{"id":"antarctica","lon":-17,"lat":-73.5},{"id":"antarctica","lon":-8,"lat":-71},{"id":"antarctica","lon":5,"lat":-70.5},{"id":"antarctica","lon":20,"lat":-70},{"id":"antarctica","lon":32,"lat":-69.5},{"id":"antarctica","lon":40,"lat":-69},{"id":"antarctica","lon":50,"lat":-66.5},{"id":"antarctica","lon":58,"lat":-67},{"id":"antarctica","lon":68,"lat":-68},{"id":"antarctica","lon":70,"lat":-71},{"id":"antarctica","lon":75,"lat":-69},{"id":"antarctica","lon":88,"lat":-66.5},{"id":"antarctica","lon":100,"lat":-66},{"id":"antarctica","lon":110,"lat":-66},{"id":"antarctica","lon":120,"lat":-67},{"id":"antarctica","lon":135,"lat":-66},{"id":"antarctica","lon":145,"lat":-67.5},{"id":"antarctica","lon":155,"lat":-69},{"id":"antarctica","lon":165,"lat":-70.5},{"id":"antarctica","lon":171,"lat":-71.5},{"id":"antarctica","lon":167,"lat":-74.5},{"id":"antarctica","lon":163,"lat":-77},{"id":"antarctica","lon":165,"lat":-78.5},{"id":"antarctica","lon":172,"lat":-82},{"id":"antarctica","lon":180,"lat":-85},{"id":"antarctica","lon":180,"lat":-90}
    ],
    "seas": [
      {"id":"caspian","lon":47,"lat":45},{"id":"caspian","lon":50,"lat":46.8},{"id":"caspian","lon":53,"lat":46.8},{"id":"caspian","lon":53,"lat":45},{"id":"caspian","lon":51,"lat":44.5},{"id":"caspian","lon":50.5,"lat":43},{"id":"caspian","lon":53,"lat":42},{"id":"caspian","lon":53.8,"lat":40},{"id":"caspian","lon":53,"lat":37},{"id":"caspian","lon":51,"lat":36.7},{"id":"caspian","lon":49,"lat":37.5},{"id":"caspian","lon":49.5,"lat":40.3},{"id":"caspian","lon":47.5,"lat":43}
    ],
    "borders": [
      {"id":"usca","lon":-123,"lat":49},{"id":"usca","lon":-95,"lat":49},{"id":"usca","lon":-89,"lat":48},{"id":"usca","lon":-83,"lat":46},{"id":"usca","lon":-82.5,"lat":42.5},{"id":"usca","lon":-79,"lat":43},{"id":"usca","lon":-76,"lat":44.3},{"id":"usca","lon":-71,"lat":45},{"id":"usca","lon":-69,"lat":47.3},{"id":"usca","lon":-67.5,"lat":45.2},
      {"id":"alaska","lon":-141,"lat":69.6},{"id":"alaska","lon":-141,"lat":60.3},{"id":"alaska","lon":-135,"lat":59},{"id":"alaska","lon":-130,"lat":55},
      {"id":"usmx","lon":-117.1,"lat":32.5},{"id":"usmx","lon":-108,"lat":31.5},{"id":"usmx","lon":-106.5,"lat":31.8},{"id":"usmx","lon":-103,"lat":29},{"id":"usmx","lon":-99.5,"lat":27.5},{"id":"usmx","lon":-97.2,"lat":26},
      {"id":"guate","lon":-92,"lat":14.6},{"id":"guate","lon":-91,"lat":17.5},{"id":"guate","lon":-89.2,"lat":17.8},{"id":"guate","lon":-89.2,"lat":15.9},
      {"id":"colven","lon":-71.5,"lat":11.5},{"id":"colven","lon":-72.5,"lat":8},{"id":"colven","lon":-67.5,"lat":6},{"id":"colven","lon":-67.5,"lat":1.5},{"id":"colven","lon":-70,"lat":-4.2},{"id":"colven","lon":-73.8,"lat":-7.5},{"id":"colven","lon":-70.5,"lat":-11},{"id":"colven","lon":-69,"lat":-12.5},{"id":"colven","lon":-69.5,"lat":-17.5},{"id":"colven","lon":-70.4,"lat":-18.3},
      {"id":"ecuador","lon":-78.8,"lat":1.4},{"id":"ecuador","lon":-75.5,"lat":-0.2},{"id":"ecuador","lon":-70,"lat":-4.2},
      {"id":"ecuperu","lon":-80,"lat":-3.5},{"id":"ecuperu","lon":-78,"lat":-4.5},{"id":"ecuperu","lon":-75.5,"lat":-0.2},
      {"id":"bolivia","lon":-69.5,"lat":-17.5},{"id":"bolivia","lon":-67.5,"lat":-22.8},{"id":"bolivia","lon":-62.5,"lat":-22},{"id":"bolivia","lon":-58,"lat":-20},{"id":"bolivia","lon":-60,"lat":-16},{"id":"bolivia","lon":-65.3,"lat":-10},{"id":"bolivia","lon":-70.5,"lat":-11},
      {"id":"chile","lon":-67.5,"lat":-22.8},{"id":"chile","lon":-70,"lat":-33},{"id":"chile","lon":-71.8,"lat":-40},{"id":"chile","lon":-72,"lat":-50},{"id":"chile","lon":-68.5,"lat":-52.3},
      {"id":"paraguay","lon":-62.5,"lat":-22},{"id":"paraguay","lon":-58,"lat":-27},{"id":"paraguay","lon":-54.5,"lat":-25.7},{"id":"paraguay","lon":-58,"lat":-20},
      {"id":"uruguay","lon":-54.5,"lat":-25.7},{"id":"uruguay","lon":-57.7,"lat":-30.2},{"id":"uruguay","lon":-53.5,"lat":-33.7},
      {"id":"guianas","lon":-60,"lat":8.4},{"id":"guianas","lon":-60,"lat":5},{"id":"guianas","lon":-60,"lat":1.5},{"id":"guianas","lon":-56,"lat":2},{"id":"guianas","lon":-52,"lat":2.2},{"id":"guianas","lon":-51.5,"lat":4.3},
      {"id":"frsp","lon":-1.7,"lat":43.4},{"id":"frsp","lon":3.2,"lat":42.4},
      {"id":"frger","lon":2.5,"lat":51},{"id":"frger","lon":6,"lat":49.5},{"id":"frger","lon":8,"lat":49},{"id":"frger","lon":7.5,"lat":47.6},{"id":"frger","lon":6.2,"lat":46.3},{"id":"frger","lon":7.5,"lat":43.8},
      {"id":"gerpol","lon":14.2,"lat":54},{"id":"gerpol","lon":15,"lat":51},{"id":"gerpol","lon":18.8,"lat":49.5},{"id":"gerpol","lon":22.5,"lat":49},{"id":"gerpol","lon":24,"lat":48},{"id":"gerpol","lon":28,"lat":46},
      {"id":"alps","lon":7.5,"lat":47.6},{"id":"alps","lon":13,"lat":47.5},{"id":"alps","lon":17,"lat":48},{"id":"alps","lon":19,"lat":45},{"id":"alps","lon":22.5,"lat":44},{"id":"alps","lon":28,"lat":43.7},
      {"id":"balkans","lon":20,"lat":42},{"id":"balkans","lon":23,"lat":41.2},{"id":"balkans","lon":26.2,"lat":41.5},
      {"id":"rusw","lon":28,"lat":59.6},{"id":"rusw","lon":27.5,"lat":56},{"id":"rusw","lon":31,"lat":52.5},{"id":"rusw","lon":34,"lat":52},{"id":"rusw","lon":40,"lat":49.6},{"id":"rusw","lon":38.2,"lat":47.2},
      {"id":"belarus","lon":23.5,"lat":54},{"id":"belarus","lon":23.6,"lat":51.6},{"id":"belarus","lon":31,"lat":52.5},
      {"id":"norway","lon":11.5,"lat":59},{"id":"norway","lon":12.5,"lat":61},{"id":"norway","lon":14,"lat":65},{"id":"norway","lon":18,"lat":68.5},{"id":"norway","lon":21,"lat":69},{"id":"norway","lon":29,"lat":69.7},
      {"id":"finland","lon":21,"lat":69},{"id":"finland","lon":24,"lat":66},
      {"id":"finrus","lon":29,"lat":69.7},{"id":"finrus","lon":28.5,"lat":67},{"id":"finrus","lon":31,"lat":62.7},{"id":"finrus","lon":28,"lat":60.6},
      {"id":"maghreb","lon":-2,"lat":35},{"id":"maghreb","lon":-1.5,"lat":32},{"id":"maghreb","lon":-8.7,"lat":28},{"id":"maghreb","lon":-8.7,"lat":27},{"id":"maghreb","lon":-13,"lat":27.7},
      {"id":"libya","lon":8.5,"lat":37},{"id":"libya","lon":9,"lat":30},{"id":"libya","lon":10,"lat":24},{"id":"libya","lon":12,"lat":23.5},{"id":"libya","lon":15,"lat":23},{"id":"libya","lon":24,"lat":19.5},{"id":"libya","lon":25,"lat":20},{"id":"libya","lon":25,"lat":31.6},
      {"id":"egypt","lon":25,"lat":22},{"id":"egypt","lon":37,"lat":22},
      {"id":"mali","lon":-8.7,"lat":27},{"id":"mali","lon":5,"lat":19},{"id":"mali","lon":12,"lat":23.5},
      {"id":"sahel","lon":-16,"lat":16},{"id":"sahel","lon":-12,"lat":15},{"id":"sahel","lon":-5.5,"lat":15.5},{"id":"sahel","lon":4,"lat":15},{"id":"sahel","lon":3.7,"lat":11.7},{"id":"sahel","lon":15,"lat":13},
      {"id":"guinea","lon":-12,"lat":15},{"id":"guinea","lon":-8,"lat":10},{"id":"guinea","lon":-2.8,"lat":9.5},{"id":"guinea","lon":3.7,"lat":11.7},
      {"id":"ghana","lon":-2.8,"lat":9.5},{"id":"ghana","lon":-2.8,"lat":5},
      {"id":"sudan","lon":24,"lat":19.5},{"id":"sudan","lon":24,"lat":9},{"id":"sudan","lon":34,"lat":9.5},{"id":"sudan","lon":36,"lat":14.5},{"id":"sudan","lon":38.5,"lat":18},
      {"id":"chad","lon":15,"lat":23},{"id":"chad","lon":14,"lat":13},{"id":"chad","lon":15,"lat":10},{"id":"chad","lon":16,"lat":2},{"id":"chad","lon":24,"lat":4},{"id":"chad","lon":31,"lat":3.7},{"id":"chad","lon":34,"lat":4.3},{"id":"chad","lon":41,"lat":4},{"id":"chad","lon":41,"lat":-1.7},
      {"id":"nigeria","lon":14.5,"lat":12.7},{"id":"nigeria","lon":8.5,"lat":4.6},
      {"id":"ethiopia","lon":34,"lat":9.5},{"id":"ethiopia","lon":36,"lat":4.5},{"id":"ethiopia","lon":42,"lat":4},{"id":"ethiopia","lon":48,"lat":8},{"id":"ethiopia","lon":43.3,"lat":11.4},
      {"id":"congo","lon":12,"lat":-5},{"id":"congo","lon":16,"lat":-6},{"id":"congo","lon":22,"lat":-11},{"id":"congo","lon":28,"lat":-12},{"id":"congo","lon":29.5,"lat":-4},{"id":"congo","lon":31,"lat":3.7},
      {"id":"tanzania","lon":30,"lat":-1},{"id":"tanzania","lon":34,"lat":-1},{"id":"tanzania","lon":39.5,"lat":-4.7},
      {"id":"moz","lon":30,"lat":-8},{"id":"moz","lon":40.5,"lat":-10.8},
      {"id":"zambia","lon":12,"lat":-17},{"id":"zambia","lon":24,"lat":-18},{"id":"zambia","lon":30,"lat":-15.5},{"id":"zambia","lon":34,"lat":-12},
      {"id":"namibia","lon":20,"lat":-18},{"id":"namibia","lon":20,"lat":-28},{"id":"namibia","lon":16.5,"lat":-28.6},
      {"id":"rsa","lon":20,"lat":-25},{"id":"rsa","lon":26,"lat":-25},{"id":"rsa","lon":32,"lat":-22.5},{"id":"rsa","lon":33,"lat":-26},
      {"id":"zim","lon":30,"lat":-22},{"id":"zim","lon":26,"lat":-18},
      {"id":"kaznorth","lon":48,"lat":46.5},{"id":"kaznorth","lon":51,"lat":51},{"id":"kaznorth","lon":61,"lat":51},{"id":"kaznorth","lon":71,"lat":55},{"id":"kaznorth","lon":77,"lat":53.5},{"id":"kaznorth","lon":87,"lat":49},
      {"id":"russouth","lon":38.2,"lat":47.2},{"id":"russouth","lon":48,"lat":46},
      {"id":"rusmon","lon":87,"lat":49},{"id":"rusmon","lon":98,"lat":52},{"id":"rusmon","lon":107,"lat":50},{"id":"rusmon","lon":116,"lat":50},{"id":"rusmon","lon":120,"lat":53},{"id":"rusmon","lon":127,"lat":50},{"id":"rusmon","lon":131,"lat":45},{"id":"rusmon","lon":130.7,"lat":42.5},
      {"id":"chnmon","lon":87,"lat":49},{"id":"chnmon","lon":91,"lat":45},{"id":"chnmon","lon":97,"lat":43},{"id":"chnmon","lon":105,"lat":42},{"id":"chnmon","lon":112,"lat":45},{"id":"chnmon","lon":120,"lat":47},{"id":"chnmon","lon":116,"lat":50},
      {"id":"chnkaz","lon":87,"lat":49},{"id":"chnkaz","lon":80,"lat":42},{"id":"chnkaz","lon":74,"lat":39.5},{"id":"chnkaz","lon":74,"lat":37},
      {"id":"himalaya","lon":74,"lat":37},{"id":"himalaya","lon":79,"lat":33},{"id":"himalaya","lon":81,"lat":30},{"id":"himalaya","lon":88,"lat":28},{"id":"himalaya","lon":97,"lat":28},{"id":"himalaya","lon":98,"lat":24},{"id":"himalaya","lon":101,"lat":21.5},{"id":"himalaya","lon":107,"lat":21.6},
      {"id":"indpak","lon":74,"lat":37},{"id":"indpak","lon":74,"lat":32},{"id":"indpak","lon":70,"lat":24},
      {"id":"iraneast","lon":61,"lat":25},{"id":"iraneast","lon":61,"lat":30},{"id":"iraneast","lon":61,"lat":36},{"id":"iraneast","lon":54,"lat":37.5},
      {"id":"afghan","lon":61,"lat":36},{"id":"afghan","lon":66,"lat":37.5},{"id":"afghan","lon":74,"lat":37},
      {"id":"pak","lon":61,"lat":30},{"id":"pak","lon":66,"lat":29.5},{"id":"pak","lon":70,"lat":33},{"id":"pak","lon":71,"lat":36},
      {"id":"stans","lon":53,"lat":42},{"id":"stans","lon":56,"lat":45},{"id":"stans","lon":61,"lat":44},{"id":"stans","lon":70,"lat":41},{"id":"stans","lon":74,"lat":39.5},
      {"id":"turkmen","lon":53,"lat":42},{"id":"turkmen","lon":66,"lat":37.5},
      {"id":"iraniraq","lon":48,"lat":30},{"id":"iraniraq","lon":46,"lat":35},{"id":"iraniraq","lon":44.5,"lat":39.5},
      {"id":"turkey","lon":36,"lat":36.7},{"id":"turkey","lon":42,"lat":37},{"id":"turkey","lon":44.5,"lat":37},
      {"id":"iraq","lon":48,"lat":29},{"id":"iraq","lon":44,"lat":29},{"id":"iraq","lon":39,"lat":32},{"id":"iraq","lon":36,"lat":35},
      {"id":"saudi","lon":43,"lat":16.5},{"id":"saudi","lon":52,"lat":19},{"id":"saudi","lon":55.5,"lat":22},{"id":"saudi","lon":52,"lat":24},
      {"id":"yemen","lon":52,"lat":19},{"id":"yemen","lon":53,"lat":16},
      {"id":"korea","lon":124.5,"lat":40},{"id":"korea","lon":130.7,"lat":42.5},
      {"id":"dmz","lon":126.7,"lat":38},{"id":"dmz","lon":128.3,"lat":38.6},
      {"id":"thai","lon":98.5,"lat":10},{"id":"thai","lon":99,"lat":16},{"id":"thai","lon":101,"lat":21.5},
      {"id":"laos","lon":100,"lat":20},{"id":"laos","lon":105,"lat":18},{"id":"laos","lon":107,"lat":15},{"id":"laos","lon":106,"lat":11},
      {"id":"cambodia","lon":103,"lat":11},{"id":"cambodia","lon":105.5,"lat":14.3},
      {"id":"caucasus","lon":40,"lat":43.5},{"id":"caucasus","lon":47.5,"lat":41.5},
      {"id":"png","lon":141,"lat":-2.6},{"id":"png","lon":141,"lat":-9.1},
      {"id":"sarawak","lon":109.5,"lat":1.5},{"id":"sarawak","lon":115,"lat":3},{"id":"sarawak","lon":117.7,"lat":4.2}
    ],
    "endpoints": [
      {"series": "Launch", "lon": -15.6, "lat": 62.2},
      {"series": "Last fix", "lon": 87.3, "lat": 54.2}
    ],
    "fixes": [
      {"time":"2026-02-18T09:03:50Z","lon":-15.6,"lat":62.22,"alt":11580,"wind":16.9,"low":16.05,"high":17.65},
      {"time":"2026-02-19T07:25Z","lon":10.1,"lat":57.0,"alt":11750,"wind":20.03,"low":19.85,"high":20.15},
      {"time":"2026-02-19T07:35Z","lon":10.5,"lat":56.95,"alt":11768,"wind":20.1,"low":19.9,"high":20.3},
      {"time":"2026-02-19T07:45Z","lon":10.9,"lat":56.9,"alt":11772,"wind":20.15,"low":19.9,"high":20.4},
      {"time":"2026-02-19T07:55Z","lon":11.2,"lat":56.85,"alt":11776,"wind":20.4,"low":20.0,"high":20.9},
      {"time":"2026-02-19T08:03Z","lon":11.4,"lat":56.8,"alt":11812,"wind":20.8,"low":20.2,"high":21.5},
      {"time":"2026-02-19T08:10Z","lon":11.6,"lat":56.75,"alt":11806,"wind":20.65,"low":20.15,"high":21.1},
      {"time":"2026-02-19T08:20Z","lon":11.9,"lat":56.7,"alt":11780,"wind":20.47,"low":20.1,"high":20.85},
      {"time":"2026-02-19T08:40Z","lon":12.3,"lat":56.6,"alt":11770,"wind":20.35,"low":20.0,"high":20.8},
      {"time":"2026-02-19T08:58Z","lon":12.8,"lat":56.5,"alt":11796,"wind":20.3,"low":19.95,"high":20.75},
      {"time":"2026-02-19T09:15Z","lon":13.2,"lat":56.4,"alt":11790,"wind":20.25,"low":19.8,"high":20.8},
      {"time":"2026-02-19T09:38Z","lon":13.6,"lat":56.3,"alt":11772,"wind":20.3,"low":19.7,"high":20.9},
      {"time":"2026-02-19T09:55Z","lon":14.0,"lat":56.2,"alt":11768,"wind":20.3,"low":19.63,"high":20.95},
      {"time":"2026-02-23T08:51Z","lon":80.2,"lat":53.6,"alt":11328,"wind":18.12,"low":16.75,"high":19.9},
      {"time":"2026-02-23T09:00Z","lon":80.4,"lat":53.55,"alt":11325,"wind":18.15,"low":17.55,"high":19.45},
      {"time":"2026-02-23T09:10Z","lon":80.6,"lat":53.5,"alt":11332,"wind":18.18,"low":17.6,"high":19.4},
      {"time":"2026-02-23T09:18Z","lon":80.8,"lat":53.47,"alt":11340,"wind":18.22,"low":17.62,"high":19.38},
      {"time":"2026-02-23T09:26Z","lon":81.0,"lat":53.43,"alt":11347,"wind":18.27,"low":17.65,"high":19.35},
      {"time":"2026-02-23T09:34Z","lon":81.2,"lat":53.45,"alt":11350,"wind":18.3,"low":17.65,"high":19.3},
      {"time":"2026-02-23T09:42Z","lon":81.4,"lat":53.5,"alt":11344,"wind":18.33,"low":17.65,"high":19.28},
      {"time":"2026-02-23T09:50Z","lon":81.6,"lat":53.55,"alt":11338,"wind":18.36,"low":17.62,"high":19.25},
      {"time":"2026-02-23T09:58Z","lon":81.8,"lat":53.6,"alt":11334,"wind":18.4,"low":17.6,"high":19.25},
      {"time":"2026-02-23T10:06Z","lon":82.0,"lat":53.65,"alt":11330,"wind":18.43,"low":17.58,"high":19.22},
      {"time":"2026-02-23T10:15Z","lon":82.2,"lat":53.7,"alt":11326,"wind":18.47,"low":17.55,"high":19.2},
      {"time":"2026-02-23T10:25Z","lon":82.4,"lat":53.75,"alt":11328,"wind":18.5,"low":17.55,"high":19.2},
      {"time":"2026-02-23T10:33Z","lon":82.6,"lat":53.78,"alt":11324,"wind":18.52,"low":17.5,"high":19.18},
      {"time":"2026-02-23T10:41Z","lon":82.8,"lat":53.8,"alt":11326,"wind":18.55,"low":17.5,"high":19.15},
      {"time":"2026-02-28T01:24Z","lon":82.0,"lat":54.4,"alt":11332,"wind":9.1,"low":8.85,"high":9.4},
      {"time":"2026-02-28T01:35Z","lon":82.1,"lat":54.4,"alt":11336,"wind":9.2,"low":8.9,"high":9.5},
      {"time":"2026-02-28T01:45Z","lon":82.2,"lat":54.4,"alt":11342,"wind":9.0,"low":8.7,"high":9.35},
      {"time":"2026-02-28T01:55Z","lon":82.3,"lat":54.4,"alt":11335,"wind":8.9,"low":8.6,"high":9.25},
      {"time":"2026-02-28T02:05Z","lon":82.4,"lat":54.4,"alt":11348,"wind":8.8,"low":8.45,"high":9.15},
      {"time":"2026-02-28T02:15Z","lon":82.5,"lat":54.4,"alt":11354,"wind":8.65,"low":8.3,"high":9.0},
      {"time":"2026-02-28T02:25Z","lon":82.6,"lat":54.4,"alt":11358,"wind":8.7,"low":8.35,"high":9.1},
      {"time":"2026-02-28T02:35Z","lon":82.7,"lat":54.4,"alt":11362,"wind":9.1,"low":8.7,"high":9.5},
      {"time":"2026-02-28T02:45Z","lon":82.8,"lat":54.4,"alt":11352,"wind":9.6,"low":9.2,"high":10.0},
      {"time":"2026-02-28T02:55Z","lon":82.9,"lat":54.4,"alt":11366,"wind":9.75,"low":9.3,"high":10.2},
      {"time":"2026-02-28T03:05Z","lon":83.0,"lat":54.35,"alt":11372,"wind":9.85,"low":9.4,"high":10.3},
      {"time":"2026-02-28T03:15Z","lon":83.1,"lat":54.35,"alt":11360,"wind":10.0,"low":9.55,"high":10.45},
      {"time":"2026-02-28T03:25Z","lon":83.2,"lat":54.35,"alt":11375,"wind":10.1,"low":9.6,"high":10.55},
      {"time":"2026-02-28T03:35Z","lon":83.3,"lat":54.35,"alt":11378,"wind":10.15,"low":9.65,"high":10.65},
      {"time":"2026-02-28T03:50Z","lon":83.5,"lat":54.35,"alt":11368,"wind":10.3,"low":9.8,"high":10.8},
      {"time":"2026-02-28T04:05Z","lon":83.6,"lat":54.35,"alt":11382,"wind":10.45,"low":9.95,"high":10.95},
      {"time":"2026-02-28T04:20Z","lon":83.8,"lat":54.3,"alt":11380,"wind":10.7,"low":10.2,"high":11.2},
      {"time":"2026-02-28T04:35Z","lon":84.0,"lat":54.3,"alt":11374,"wind":11.0,"low":10.5,"high":11.5},
      {"time":"2026-02-28T04:50Z","lon":84.2,"lat":54.3,"alt":11385,"wind":11.35,"low":10.85,"high":11.85},
      {"time":"2026-02-28T05:00Z","lon":84.3,"lat":54.3,"alt":11384,"wind":11.7,"low":11.2,"high":12.2},
      {"time":"2026-02-28T05:10Z","lon":84.4,"lat":54.3,"alt":11378,"wind":12.0,"low":11.45,"high":12.55},
      {"time":"2026-02-28T05:20Z","lon":84.5,"lat":54.3,"alt":11388,"wind":12.35,"low":11.8,"high":12.9},
      {"time":"2026-02-28T05:30Z","lon":84.6,"lat":54.3,"alt":11381,"wind":12.7,"low":12.15,"high":13.25},
      {"time":"2026-02-28T05:40Z","lon":84.7,"lat":54.3,"alt":11386,"wind":12.95,"low":12.4,"high":13.5},
      {"time":"2026-02-28T05:50Z","lon":84.8,"lat":54.3,"alt":11375,"wind":13.15,"low":12.6,"high":13.7},
      {"time":"2026-02-28T06:00Z","lon":84.9,"lat":54.25,"alt":11388,"wind":13.35,"low":12.8,"high":13.9},
      {"time":"2026-02-28T06:15Z","lon":85.0,"lat":54.25,"alt":11389,"wind":13.45,"low":12.9,"high":14.0},
      {"time":"2026-02-28T06:30Z","lon":85.1,"lat":54.25,"alt":11384,"wind":13.55,"low":13.0,"high":14.1},
      {"time":"2026-02-28T06:45Z","lon":85.2,"lat":54.25,"alt":11390,"wind":13.7,"low":13.1,"high":14.3},
      {"time":"2026-02-28T07:00Z","lon":85.3,"lat":54.25,"alt":11368,"wind":13.8,"low":13.2,"high":14.4},
      {"time":"2026-02-28T07:10Z","lon":85.4,"lat":54.25,"alt":11378,"wind":14.1,"low":13.5,"high":14.75},
      {"time":"2026-02-28T07:20Z","lon":85.5,"lat":54.25,"alt":11360,"wind":14.5,"low":13.85,"high":15.2},
      {"time":"2026-02-28T07:30Z","lon":85.6,"lat":54.25,"alt":11352,"wind":14.75,"low":14.1,"high":15.45},
      {"time":"2026-02-28T07:45Z","lon":85.7,"lat":54.2,"alt":11346,"wind":14.95,"low":14.3,"high":15.65},
      {"time":"2026-02-28T08:00Z","lon":85.8,"lat":54.2,"alt":11342,"wind":15.1,"low":14.4,"high":15.85},
      {"time":"2026-02-28T08:15Z","lon":85.9,"lat":54.2,"alt":11338,"wind":15.25,"low":14.5,"high":16.0},
      {"time":"2026-02-28T08:30Z","lon":86.0,"lat":54.2,"alt":11336,"wind":15.35,"low":14.55,"high":16.2},
      {"time":"2026-02-28T08:45Z","lon":86.1,"lat":54.2,"alt":11332,"wind":15.3,"low":14.5,"high":16.1},
      {"time":"2026-02-28T09:00Z","lon":86.2,"lat":54.2,"alt":11330,"wind":15.2,"low":14.4,"high":15.95},
      {"time":"2026-02-28T09:15Z","lon":86.3,"lat":54.2,"alt":11328,"wind":14.9,"low":14.15,"high":15.65},
      {"time":"2026-02-28T09:30Z","lon":86.4,"lat":54.2,"alt":11326,"wind":14.7,"low":14.0,"high":15.4},
      {"time":"2026-02-28T09:45Z","lon":86.6,"lat":54.2,"alt":11324,"wind":14.45,"low":13.8,"high":15.15},
      {"time":"2026-02-28T10:00Z","lon":86.7,"lat":54.2,"alt":11332,"wind":14.5,"low":13.85,"high":15.15},
      {"time":"2026-02-28T10:15Z","lon":86.8,"lat":54.2,"alt":11322,"wind":14.3,"low":13.7,"high":15.0},
      {"time":"2026-02-28T10:30Z","lon":86.9,"lat":54.2,"alt":11328,"wind":14.2,"low":13.6,"high":14.85},
      {"time":"2026-02-28T10:45Z","lon":87.0,"lat":54.2,"alt":11319,"wind":14.15,"low":13.55,"high":14.8},
      {"time":"2026-02-28T10:58Z","lon":87.2,"lat":54.2,"alt":11308,"wind":14.05,"low":13.5,"high":14.7},
      {"time":"2026-02-28T11:08:27Z","lon":87.3,"lat":54.2,"alt":11326,"wind":14.2,"low":13.6,"high":14.85}
    ],
    "daily": [
      {"time":"2026-02-18T00:00Z","wind":16.9,"alt":11580},
      {"time":"2026-02-19T00:00Z","wind":20.3,"alt":11780},
      {"time":"2026-02-23T00:00Z","wind":18.3,"alt":11332},
      {"time":"2026-02-28T00:00Z","wind":12.35,"alt":11358}
    ],
    "windkey": [
      {"series": "±1σ propagated error"},
      {"series": "Wind speed"},
      {"series": "Daily mean"}
    ],
    "bins": [
      {"series":"U (zonal)","start":5,"end":10,"count":26},
      {"series":"U (zonal)","start":10,"end":15,"count":95},
      {"series":"U (zonal)","start":15,"end":20,"count":38},
      {"series":"V (meridional)","start":-15,"end":-10,"count":2},
      {"series":"V (meridional)","start":-10,"end":-5,"count":14},
      {"series":"V (meridional)","start":-5,"end":0,"count":124},
      {"series":"V (meridional)","start":0,"end":5,"count":19}
    ],
    "summary": [
      {"kind":"head","pos":0.93,"line":"Pico Balloon Archive"},
      {"kind":"call","pos":0.858,"line":"Callsign: SA6BSS-8 \u00a0 (APRS)"},
      {"kind":"body","pos":0.788,"line":"2026-02-18 09:03:50 \u00a0to \u00a02026-02-28 11:08:27 \u00a0UTC"},
      {"kind":"body","pos":0.712,"line":"Time aloft: 10.1 days \u00a0 \u00a0Data points: 177"},
      {"kind":"body","pos":0.637,"line":"Altitude: 11297 - 11841 m \u00a0 \u00a0(float 48 h)"},
      {"kind":"body","pos":0.564,"line":"Latitude range: 53.43 to 62.22"},
      {"kind":"body","pos":0.488,"line":"Path length: 6,519 km"},
      {"kind":"body","pos":0.412,"line":"Position source: reported GPS \u00a0 \u00a0σ(E,N) = 22, 19 m"},
      {"kind":"body","pos":0.34,"line":"Median sampling gap: 2 min \u00a0 \u00a0Longest gap: 111.7 h"},
      {"kind":"score","pos":0.257,"line":"Data quality score: 0.824"},
      {"kind":"note","pos":0.194,"line":"precision=0.95 \u00a0 cadence=1.00 \u00a0 agreement=1.00 \u00a0 stability=0.99 \u00a0 coverage=0.20"}
    ]
  },
  "concat": [
    {
      "width": 705, "height": 306.7,
      "title": {"text": "Flight Track", "offset": -2.5},
      "view": {"fill": "#d3e5f1", "stroke": "black"},
      "encoding": {
        "x": {"field": "lon", "type": "quantitative", "title": "Longitude (deg)", "scale": {"domain": [-180, 180], "nice": false, "zero": false}, "axis": {"values": [-180, -120, -60, 0, 60, 120, 180], "format": "d", "gridDash": [2, 2], "gridColor": "#777777", "gridOpacity": 0.22, "zindex": 1}},
        "y": {"field": "lat", "type": "quantitative", "title": "Latitude (deg)", "scale": {"domain": [-90, 90], "nice": false, "zero": false}, "axis": {"values": [-90, -60, -30, 0, 30, 60, 90], "format": "d", "gridDash": [2, 2], "gridColor": "#777777", "gridOpacity": 0.22, "zindex": 1}}
      },
      "layer": [
        {
          "data": {"name": "land"},
          "mark": {"type": "line", "interpolate": "linear-closed", "order": false, "fill": "#e8e8e4", "stroke": "#b9bcbc", "strokeWidth": 0.9, "clip": true},
          "encoding": {"detail": {"field": "id"}}
        },
        {
          "data": {"name": "seas"},
          "mark": {"type": "line", "interpolate": "linear-closed", "order": false, "fill": "#d3e5f1", "stroke": "#b9bcbc", "strokeWidth": 0.9},
          "encoding": {"detail": {"field": "id"}}
        },
        {
          "data": {"name": "borders"},
          "mark": {"type": "line", "order": false, "stroke": "#d7d8d4", "strokeWidth": 0.7},
          "encoding": {"detail": {"field": "id"}}
        },
        {
          "encoding": {
            "shape": {"field": "series", "type": "nominal", "title": null, "scale": {"domain": ["Track", "Launch", "Last fix"], "range": ["M-0.27,0A0.27,0.27 0 1,1 0.27,0A0.27,0.27 0 1,1 -0.27,0Z", "M-1.07,0A1.07,1.07 0 1,1 1.07,0A1.07,1.07 0 1,1 -1.07,0Z", "M0,-1.33L0.3,-0.41L1.265,-0.41L0.483,0.157L0.782,1.076L0,0.508L-0.782,1.076L-0.483,0.157L-1.265,-0.41L-0.3,-0.41Z"]}, "legend": {"orient": "bottom-left", "offset": 6, "symbolSize": 225, "symbolStrokeWidth": 1.3, "gridAlign": "all", "rowPadding": -8, "labelOffset": 12, "padding": 5}},
            "fill": {"field": "series", "type": "nominal", "title": null, "scale": {"domain": ["Track", "Launch", "Last fix"], "range": ["#c0392b", "#27ae60", "#1f77b4"]}},
            "stroke": {"field": "series", "type": "nominal", "title": null, "scale": {"domain": ["Track", "Launch", "Last fix"], "range": ["#c0392b", "black", "black"]}}
          },
          "layer": [
            {
              "data": {"name": "fixes"},
              "transform": [{"filter": "datum.lon > 0"}, {"calculate": "'Track'", "as": "series"}],
              "mark": {"type": "point", "filled": true, "size": 225, "strokeWidth": 0.5, "opacity": 1}
            },
            {
              "data": {"name": "endpoints"},
              "mark": {"type": "point", "filled": true, "size": 225, "strokeWidth": 1.3, "opacity": 1}
            }
          ]
        }
      ]
    },
    {
      "width": 705, "height": 306.7,
      "view": {"stroke": null},
      "data": {"name": "summary"},
      "mark": {"type": "text", "align": "center", "baseline": "middle"},
      "encoding": {
        "y": {"field": "pos", "type": "quantitative", "scale": {"domain": [0, 1]}, "axis": null},
        "text": {"field": "line"},
        "size": {"field": "kind", "type": "ordinal", "scale": {"type": "ordinal", "domain": ["head", "call", "body", "score", "note"], "range": [22.2, 19.4, 15.2, 18.05, 12.5]}, "legend": null},
        "color": {"field": "kind", "type": "nominal", "scale": {"domain": ["head", "call", "body", "score", "note"], "range": ["#1a5276", "black", "black", "#1a5276", "#555555"]}, "legend": null}
      }
    },
    {
      "width": 705, "height": 306.7,
      "title": "Wind Speed vs. Time",
      "encoding": {
        "x": {"field": "time", "type": "temporal", "title": null, "scale": {"type": "utc", "domain": ["2026-02-17T11:27:00Z", "2026-02-28T23:41:00Z"]}, "axis": {"values": [{"year":2026,"month":2,"date":19,"utc":true},{"year":2026,"month":2,"date":21,"utc":true},{"year":2026,"month":2,"date":23,"utc":true},{"year":2026,"month":2,"date":25,"utc":true},{"year":2026,"month":2,"date":27,"utc":true}], "format": "%y-%m-%d", "labelAngle": -20, "labelAlign": "center", "labelBaseline": "middle", "labelPadding": 17}}
      },
      "layer": [
        {
          "data": {"name": "fixes"},
          "mark": {"type": "area", "color": "#7f8c8d", "opacity": 0.35, "line": false},
          "encoding": {
            "y": {"field": "low", "type": "quantitative", "title": "Wind speed (m s⁻¹)", "scale": {"domain": [0, 22.04], "nice": false}, "axis": {"values": [0, 2.5, 5, 7.5, 10, 12.5, 15, 17.5, 20], "format": ".1f"}},
            "y2": {"field": "high"}
          }
        },
        {
          "data": {"name": "daily"},
          "mark": {"type": "line", "color": "#c0392b", "strokeWidth": 1.6},
          "encoding": {"y": {"field": "wind", "type": "quantitative", "title": "Wind speed (m s⁻¹)", "axis": {"values": [0, 2.5, 5, 7.5, 10, 12.5, 15, 17.5, 20], "format": ".1f"}}}
        },
        {
          "data": {"name": "fixes"},
          "mark": {"type": "circle", "color": "#2c3e50", "size": 16, "opacity": 1},
          "encoding": {"y": {"field": "wind", "type": "quantitative", "title": "Wind speed (m s⁻¹)", "axis": {"values": [0, 2.5, 5, 7.5, 10, 12.5, 15, 17.5, 20], "format": ".1f"}}}
        },
        {
          "data": {"name": "windkey"},
          "mark": {"type": "point", "filled": true, "opacity": 0},
          "encoding": {
            "x": {"datum": "2026-02-20T00:00:00Z", "type": "temporal"},
            "y": {"datum": 10, "type": "quantitative", "title": "Wind speed (m s⁻¹)", "axis": {"values": [0, 2.5, 5, 7.5, 10, 12.5, 15, 17.5, 20], "format": ".1f"}},
            "shape": {"field": "series", "type": "nominal", "title": null, "scale": {"domain": ["±1σ propagated error", "Wind speed", "Daily mean"], "range": ["M-1,-0.7H3V0.7H-1Z", "M0.75,0A0.25,0.25 0 1,1 1.25,0A0.25,0.25 0 1,1 0.75,0Z", "M-1,-0.13H3V0.13H-1Z"]}, "legend": {"orient": "top-right", "symbolSize": 144, "symbolOpacity": 1, "symbolStrokeWidth": 0}},
            "fill": {"field": "series", "type": "nominal", "title": null, "scale": {"domain": ["±1σ propagated error", "Wind speed", "Daily mean"], "range": ["#d0d6d7", "#2c3e50", "#c0392b"]}}
          }
        }
      ]
    },
    {
      "width": 705, "height": 306.7,
      "title": {"text": "Latitude vs. Time", "offset": -2.5},
      "data": {"name": "fixes"},
      "mark": {"type": "circle", "color": "black", "size": 16, "opacity": 1},
      "encoding": {
        "x": {"field": "time", "type": "temporal", "title": null, "scale": {"type": "utc", "domain": ["2026-02-17T20:58:00Z", "2026-02-28T23:14:00Z"]}, "axis": {"values": [{"year":2026,"month":2,"date":19,"utc":true},{"year":2026,"month":2,"date":21,"utc":true},{"year":2026,"month":2,"date":23,"utc":true},{"year":2026,"month":2,"date":25,"utc":true},{"year":2026,"month":2,"date":27,"utc":true}], "format": "%y-%m-%d", "labelAngle": -20, "labelAlign": "center", "labelBaseline": "middle", "labelPadding": 17}},
        "y": {"field": "lat", "type": "quantitative", "title": "Latitude (deg)", "scale": {"domain": [-90, 90], "nice": false, "zero": false}, "axis": {"values": [-90, -60, -30, 0, 30, 60, 90], "format": "d"}}
      }
    },
    {
      "width": 705, "height": 306.7,
      "title": "Balloon Altitude vs. Time",
      "encoding": {
        "x": {"field": "time", "type": "temporal", "title": "UTC date", "scale": {"type": "utc", "domain": ["2026-02-17T11:27:00Z", "2026-02-28T23:41:00Z"]}, "axis": {"values": [{"year":2026,"month":2,"date":19,"utc":true},{"year":2026,"month":2,"date":21,"utc":true},{"year":2026,"month":2,"date":23,"utc":true},{"year":2026,"month":2,"date":25,"utc":true},{"year":2026,"month":2,"date":27,"utc":true}], "format": "%y-%m-%d", "labelAngle": -20, "labelAlign": "center", "labelBaseline": "middle", "labelPadding": 17, "titlePadding": 10}},
        "y": {"field": "alt", "type": "quantitative", "title": "Altitude (m AMSL)", "scale": {"domain": [11283, 11837], "nice": false, "zero": false}, "axis": {"values": [11300, 11400, 11500, 11600, 11700, 11800], "format": "d"}}
      },
      "layer": [
        {
          "data": {"name": "daily"},
          "mark": {"type": "line", "color": "#c0392b", "strokeWidth": 1.8}
        },
        {
          "data": {"name": "fixes"},
          "mark": {"type": "circle", "color": "#7f8c8d", "size": 16, "opacity": 1}
        }
      ]
    },
    {
      "width": 705, "height": 306.7,
      "title": "U and V Wind Components",
      "data": {"name": "bins"},
      "mark": {"type": "bar", "stroke": "black", "strokeWidth": 1, "opacity": 0.65},
      "encoding": {
        "x": {"field": "start", "type": "quantitative", "title": "Wind speed (m s⁻¹)", "scale": {"domain": [-100, 100], "nice": false}, "axis": {"values": [-100, -75, -50, -25, 0, 25, 50, 75, 100], "format": "d"}},
        "x2": {"field": "end"},
        "y": {"field": "count", "type": "quantitative", "title": "Frequency", "scale": {"domain": [0, 130.2], "nice": false}, "axis": {"values": [0, 20, 40, 60, 80, 100, 120], "format": "d"}},
        "y2": {"datum": 0},
        "fill": {"field": "series", "type": "nominal", "title": null, "scale": {"domain": ["U (zonal)", "V (meridional)"], "range": ["#1f77b4", "#ff7f0e"]}, "legend": {"orient": "top-right", "symbolType": "M-1,-0.7H3V0.7H-1Z", "symbolSize": 144, "symbolOpacity": 0.65, "symbolStrokeColor": "black", "symbolStrokeWidth": 1, "rowPadding": 3}}
      }
    }
  ]
}
